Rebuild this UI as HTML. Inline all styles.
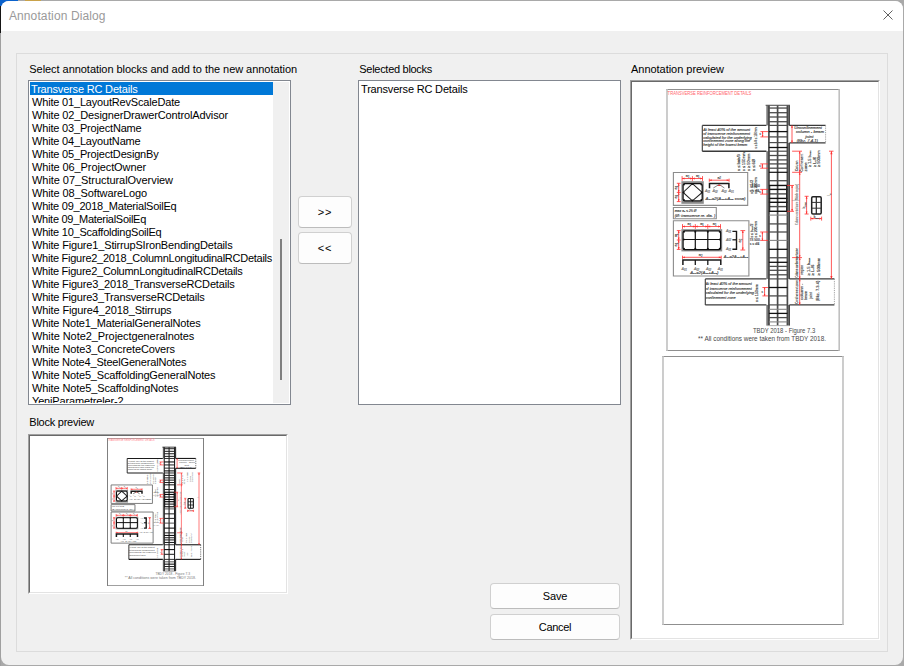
<!DOCTYPE html>
<html lang="en">
<head>
<meta charset="utf-8">
<title>Annotation Dialog</title>
<style>
html,body{margin:0;padding:0;}
body{width:904px;height:666px;position:relative;overflow:hidden;background:#a9a9a9;font-family:"Liberation Sans","DejaVu Sans",sans-serif;font-size:11px;color:#000;}
.abs{position:absolute;}
#win{position:absolute;left:1px;top:1px;width:902px;height:664px;background:#f0f0f0;border-radius:8px;overflow:hidden;}
#titlebar{position:absolute;left:0;top:0;width:902px;height:30px;background:#fff;}
#title{position:absolute;left:7.9px;top:8.4px;font-size:12px;color:#9a9a9a;white-space:nowrap;letter-spacing:0.12px}
#group{position:absolute;left:16px;top:53px;width:870px;height:597px;border:1px solid #dcdcdc;}
.lbl{position:absolute;white-space:nowrap;font-size:11px;line-height:13px;}
.list{position:absolute;background:#fff;border:1px solid #828790;overflow:hidden;box-sizing:border-box;}
.list .it{position:absolute;height:13px;line-height:13px;white-space:nowrap;}
.list .sel{position:absolute;left:1px;top:1px;height:13px;background:#0078d7;}
.btn{position:absolute;box-sizing:border-box;background:#fdfdfd;border:1px solid #d0d0d0;border-bottom-color:#bcbcbc;border-radius:4px;text-align:center;font-size:11px;}
.sunk{position:absolute;box-sizing:border-box;background:#fff;border-style:solid;border-width:1px;border-color:#a0a0a0 #fff #fff #a0a0a0;}
.sunk>.in{position:absolute;left:0;top:0;right:0;bottom:0;border-style:solid;border-width:1px;border-color:#696969 #e3e3e3 #e3e3e3 #696969;overflow:hidden;}
</style>
</head>
<body>
<div class="abs" style="left:0;top:0;width:18px;height:6px;background:#0b62cc"></div><div class="abs" style="left:0;top:6px;width:1px;height:27px;background:#151515"></div><div class="abs" style="left:0;top:33px;width:1px;height:633px;background:#a0a0a0"></div><div class="abs" style="left:25px;top:0;width:16px;height:1px;background:#c9a24a"></div>
<div id="win"><div id="titlebar"></div><div id="title">Annotation Dialog</div></div>
<svg class="abs" style="left:882px;top:9px" width="12" height="12" viewBox="0 0 12 12"><path d="M1.5 1.5 L10.5 10.5 M10.5 1.5 L1.5 10.5" stroke="#606060" stroke-width="1" fill="none"/></svg>
<div id="group"></div>
<div class="lbl" style="left:29.3px;top:63px;letter-spacing:-0.048px">Select annotation blocks and add to the new annotation</div>
<div class="lbl" style="left:359.3px;top:63px;letter-spacing:-0.290px">Selected blocks</div>
<div class="lbl" style="left:631px;top:63px;letter-spacing:-0.031px">Annotation preview</div>
<div class="lbl" style="left:29.3px;top:416px;letter-spacing:-0.243px">Block preview</div>
<div class="list" style="left:28px;top:80px;width:263px;height:325px;">
<div class="sel" style="width:243px"></div>
<div class="it" style="left:2px;top:2px;letter-spacing:-0.178px;color:#fff">Transverse RC Details</div>
<div class="it" style="left:3px;top:15px;letter-spacing:-0.181px">White 01_LayoutRevScaleDate</div>
<div class="it" style="left:3px;top:28px;letter-spacing:-0.139px">White 02_DesignerDrawerControlAdvisor</div>
<div class="it" style="left:3px;top:41px;letter-spacing:-0.180px">White 03_ProjectName</div>
<div class="it" style="left:3px;top:54px;letter-spacing:-0.179px">White 04_LayoutName</div>
<div class="it" style="left:3px;top:67px;letter-spacing:-0.181px">White 05_ProjectDesignBy</div>
<div class="it" style="left:3px;top:80px;letter-spacing:-0.103px">White 06_ProjectOwner</div>
<div class="it" style="left:3px;top:93px;letter-spacing:-0.054px">White 07_StructuralOverview</div>
<div class="it" style="left:3px;top:106px;letter-spacing:-0.115px">White 08_SoftwareLogo</div>
<div class="it" style="left:3px;top:119px;letter-spacing:-0.234px">White 09_2018_MaterialSoilEq</div>
<div class="it" style="left:3px;top:132px;letter-spacing:-0.281px">White 09_MaterialSoilEq</div>
<div class="it" style="left:3px;top:145px;letter-spacing:-0.233px">White 10_ScaffoldingSoilEq</div>
<div class="it" style="left:3px;top:158px;letter-spacing:-0.170px">White Figure1_StirrupSIronBendingDetails</div>
<div class="it" style="left:3px;top:171px;letter-spacing:-0.259px">White Figure2_2018_ColumnLongitudinalRCDetails</div>
<div class="it" style="left:3px;top:184px;letter-spacing:-0.264px">White Figure2_ColumnLongitudinalRCDetails</div>
<div class="it" style="left:3px;top:197px;letter-spacing:-0.179px">White Figure3_2018_TransverseRCDetails</div>
<div class="it" style="left:3px;top:210px;letter-spacing:-0.188px">White Figure3_TransverseRCDetails</div>
<div class="it" style="left:3px;top:223px;letter-spacing:-0.133px">White Figure4_2018_Stirrups</div>
<div class="it" style="left:3px;top:236px;letter-spacing:-0.161px">White Note1_MaterialGeneralNotes</div>
<div class="it" style="left:3px;top:249px;letter-spacing:-0.074px">White Note2_Projectgeneralnotes</div>
<div class="it" style="left:3px;top:262px;letter-spacing:-0.120px">White Note3_ConcreteCovers</div>
<div class="it" style="left:3px;top:275px;letter-spacing:-0.186px">White Note4_SteelGeneralNotes</div>
<div class="it" style="left:3px;top:288px;letter-spacing:-0.153px">White Note5_ScaffoldingGeneralNotes</div>
<div class="it" style="left:3px;top:301px;letter-spacing:-0.118px">White Note5_ScaffoldingNotes</div>
<div class="it" style="left:3px;top:314px;letter-spacing:-0.160px">YeniParametreler-2</div>
<div class="abs" style="left:244px;top:1px;width:16px;height:321px;background:#f0f0f0"></div>
<div class="abs" style="left:251px;top:158px;width:2px;height:141px;background:#808080"></div>
<div class="abs" style="left:0;top:322px;width:261px;height:1px;background:#fff"></div>
</div>
<div class="list" style="left:358px;top:80px;width:263px;height:325px;"><div class="it" style="left:2px;top:2px;letter-spacing:-0.178px">Transverse RC Details</div></div>
<div class="btn" style="left:298px;top:196px;width:54px;height:32px;line-height:31px;letter-spacing:0.8px">&gt;&gt;</div>
<div class="btn" style="left:298px;top:232px;width:54px;height:32px;line-height:31px;letter-spacing:0.8px">&lt;&lt;</div>
<div class="btn" style="left:490px;top:583px;width:130px;height:26px;line-height:25px;letter-spacing:-0.2px">Save</div>
<div class="btn" style="left:490px;top:614px;width:130px;height:26px;line-height:25px;letter-spacing:-0.3px">Cancel</div>
<div class="sunk" style="left:28px;top:434px;width:260px;height:160px;"><div class="in"></div></div>
<div class="sunk" style="left:630px;top:80px;width:250px;height:560px;"><div class="in"></div></div>
<svg class="abs" style="left:0;top:0" width="904" height="666"><rect x="667.0" y="89" width="172.20000000000005" height="262" fill="#fff"/><line x1="666.2" y1="89.5" x2="840.0" y2="89.5" stroke="#8f8f8f" stroke-width="1"/><line x1="666.2" y1="350.5" x2="840.0" y2="350.5" stroke="#8f8f8f" stroke-width="1"/><line x1="667.0" y1="89" x2="667.0" y2="351" stroke="#c0c0c0" stroke-width="1.6"/><line x1="839.2" y1="89" x2="839.2" y2="351" stroke="#c0c0c0" stroke-width="1.6"/></svg>
<svg class="abs" style="left:0;top:0" width="904" height="666"><rect x="663.0" y="356" width="180.0" height="269" fill="#fff"/><line x1="662.2" y1="356.5" x2="843.8" y2="356.5" stroke="#8f8f8f" stroke-width="1"/><line x1="662.2" y1="624.5" x2="843.8" y2="624.5" stroke="#8f8f8f" stroke-width="1"/><line x1="663.0" y1="356" x2="663.0" y2="625" stroke="#c0c0c0" stroke-width="1.6"/><line x1="843.0" y1="356" x2="843.0" y2="625" stroke="#c0c0c0" stroke-width="1.6"/></svg>
<svg class="abs" style="left:0;top:0" width="904" height="666"><rect x="107.5" y="438" width="96.0" height="148" fill="#fff"/><line x1="107.0" y1="438.5" x2="204.0" y2="438.5" stroke="#a0a0a0" stroke-width="1"/><line x1="107.0" y1="585.5" x2="204.0" y2="585.5" stroke="#a0a0a0" stroke-width="1"/><line x1="107.5" y1="438" x2="107.5" y2="586" stroke="#808080" stroke-width="1"/><line x1="203.5" y1="438" x2="203.5" y2="586" stroke="#808080" stroke-width="1"/></svg>
<svg class="abs" style="left:666px;top:89px" width="174" height="262" viewBox="0 0 174 262"><g id="dwg" font-family="'Liberation Sans',sans-serif"><g transform="translate(-666,-89)"><text x="667.6" y="94.6" font-size="4.55" fill="#ff5f6a" stroke="#ff5f6a" stroke-width="0" text-anchor="start" textLength="83.8" lengthAdjust="spacingAndGlyphs">TRANSVERSE REINFORCEMENT DETAILS</text><rect x="766.3" y="105.3" width="3.2" height="20.1" fill="#7a7a7a"/><rect x="766.3" y="151.2" width="3.2" height="127.7" fill="#7a7a7a"/><rect x="766.3" y="304.9" width="3.2" height="20.7" fill="#7a7a7a"/><rect x="787" y="105.3" width="2.9" height="20.1" fill="#7a7a7a"/><line x1="789.4" y1="105.3" x2="789.4" y2="125.4" stroke="#444" stroke-width="1.1" vector-effect="non-scaling-stroke"/><rect x="787" y="142.9" width="2.9" height="136.0" fill="#7a7a7a"/><line x1="789.4" y1="142.9" x2="789.4" y2="278.9" stroke="#444" stroke-width="1.1" vector-effect="non-scaling-stroke"/><rect x="787" y="304.9" width="2.9" height="20.7" fill="#7a7a7a"/><line x1="789.4" y1="304.9" x2="789.4" y2="325.6" stroke="#444" stroke-width="1.1" vector-effect="non-scaling-stroke"/><line x1="768.9" y1="105.3" x2="768.9" y2="325.6" stroke="#4a4a4a" stroke-width="1.7" vector-effect="non-scaling-stroke"/><line x1="777.6" y1="105.3" x2="777.6" y2="325.6" stroke="#4a4a4a" stroke-width="1.7" vector-effect="non-scaling-stroke"/><line x1="787.4" y1="105.3" x2="787.4" y2="325.6" stroke="#4a4a4a" stroke-width="1.7" vector-effect="non-scaling-stroke"/><line x1="765.6" y1="105.3" x2="790" y2="105.3" stroke="#555" stroke-width="1.1" vector-effect="non-scaling-stroke"/><line x1="766.9" y1="325.6" x2="789.4" y2="325.6" stroke="#aaa" stroke-width="0.9" vector-effect="non-scaling-stroke"/><line x1="768.9" y1="108.05" x2="787.4" y2="108.05" stroke="#4c4c4c" stroke-width="1.3" vector-effect="non-scaling-stroke"/><line x1="768.9" y1="112.7" x2="787.4" y2="112.7" stroke="#4c4c4c" stroke-width="1.3" vector-effect="non-scaling-stroke"/><line x1="768.9" y1="117" x2="787.4" y2="117" stroke="#4c4c4c" stroke-width="1.3" vector-effect="non-scaling-stroke"/><line x1="768.9" y1="121.7" x2="787.4" y2="121.7" stroke="#4c4c4c" stroke-width="1.3" vector-effect="non-scaling-stroke"/><line x1="768.9" y1="125.4" x2="787.4" y2="125.4" stroke="#4c4c4c" stroke-width="1.2" vector-effect="non-scaling-stroke"/><line x1="768.9" y1="131.6" x2="787.4" y2="131.6" stroke="#111" stroke-width="1.3" vector-effect="non-scaling-stroke"/><line x1="768.9" y1="136.9" x2="787.4" y2="136.9" stroke="#4c4c4c" stroke-width="1.3" vector-effect="non-scaling-stroke"/><line x1="768.9" y1="142.6" x2="787.4" y2="142.6" stroke="#4c4c4c" stroke-width="1.2" vector-effect="non-scaling-stroke"/><line x1="768.9" y1="147.5" x2="787.4" y2="147.5" stroke="#111" stroke-width="1.3" vector-effect="non-scaling-stroke"/><line x1="768.9" y1="151.2" x2="787.4" y2="151.2" stroke="#4c4c4c" stroke-width="1.2" vector-effect="non-scaling-stroke"/><line x1="768.9" y1="155.5" x2="787.4" y2="155.5" stroke="#4c4c4c" stroke-width="1.3" vector-effect="non-scaling-stroke"/><line x1="768.9" y1="159.9" x2="787.4" y2="159.9" stroke="#4c4c4c" stroke-width="1.3" vector-effect="non-scaling-stroke"/><line x1="768.9" y1="163.9" x2="787.4" y2="163.9" stroke="#4c4c4c" stroke-width="1.3" vector-effect="non-scaling-stroke"/><line x1="768.9" y1="168.2" x2="787.4" y2="168.2" stroke="#4c4c4c" stroke-width="1.3" vector-effect="non-scaling-stroke"/><line x1="768.9" y1="172.3" x2="787.4" y2="172.3" stroke="#111" stroke-width="1.2" vector-effect="non-scaling-stroke"/><line x1="768.9" y1="180.7" x2="787.4" y2="180.7" stroke="#4c4c4c" stroke-width="1.3" vector-effect="non-scaling-stroke"/><line x1="768.9" y1="185.45" x2="787.4" y2="185.45" stroke="#111" stroke-width="1.4" vector-effect="non-scaling-stroke"/><line x1="768.9" y1="189.4" x2="787.4" y2="189.4" stroke="#111" stroke-width="1.4" vector-effect="non-scaling-stroke"/><line x1="768.9" y1="193.9" x2="787.4" y2="193.9" stroke="#4c4c4c" stroke-width="1.4" vector-effect="non-scaling-stroke"/><line x1="768.9" y1="198.4" x2="787.4" y2="198.4" stroke="#111" stroke-width="1.4" vector-effect="non-scaling-stroke"/><line x1="768.9" y1="202.3" x2="787.4" y2="202.3" stroke="#111" stroke-width="1.4" vector-effect="non-scaling-stroke"/><line x1="768.9" y1="206.6" x2="787.4" y2="206.6" stroke="#4c4c4c" stroke-width="1.4" vector-effect="non-scaling-stroke"/><line x1="768.9" y1="211.3" x2="787.4" y2="211.3" stroke="#111" stroke-width="1.4" vector-effect="non-scaling-stroke"/><line x1="768.9" y1="215.1" x2="787.4" y2="215.1" stroke="#858585" stroke-width="1.1" vector-effect="non-scaling-stroke"/><line x1="768.9" y1="223.9" x2="787.4" y2="223.9" stroke="#4c4c4c" stroke-width="1.3" vector-effect="non-scaling-stroke"/><line x1="768.9" y1="232" x2="787.4" y2="232" stroke="#4c4c4c" stroke-width="1.3" vector-effect="non-scaling-stroke"/><line x1="768.9" y1="240.4" x2="787.4" y2="240.4" stroke="#858585" stroke-width="1.1" vector-effect="non-scaling-stroke"/><line x1="768.9" y1="249.3" x2="787.4" y2="249.3" stroke="#111" stroke-width="1.3" vector-effect="non-scaling-stroke"/><line x1="768.9" y1="257.75" x2="787.4" y2="257.75" stroke="#4c4c4c" stroke-width="1.3" vector-effect="non-scaling-stroke"/><line x1="768.9" y1="262.3" x2="787.4" y2="262.3" stroke="#111" stroke-width="1.3" vector-effect="non-scaling-stroke"/><line x1="768.9" y1="266.4" x2="787.4" y2="266.4" stroke="#4c4c4c" stroke-width="1.3" vector-effect="non-scaling-stroke"/><line x1="768.9" y1="270.3" x2="787.4" y2="270.3" stroke="#4c4c4c" stroke-width="1.3" vector-effect="non-scaling-stroke"/><line x1="768.9" y1="274.8" x2="787.4" y2="274.8" stroke="#4c4c4c" stroke-width="1.3" vector-effect="non-scaling-stroke"/><line x1="768.9" y1="278.9" x2="787.4" y2="278.9" stroke="#4c4c4c" stroke-width="1.2" vector-effect="non-scaling-stroke"/><line x1="768.9" y1="287.5" x2="787.4" y2="287.5" stroke="#111" stroke-width="1.3" vector-effect="non-scaling-stroke"/><line x1="768.9" y1="295.9" x2="787.4" y2="295.9" stroke="#4c4c4c" stroke-width="1.3" vector-effect="non-scaling-stroke"/><line x1="768.9" y1="304.9" x2="787.4" y2="304.9" stroke="#4c4c4c" stroke-width="1.2" vector-effect="non-scaling-stroke"/><line x1="768.9" y1="309.3" x2="787.4" y2="309.3" stroke="#858585" stroke-width="1.1" vector-effect="non-scaling-stroke"/><line x1="768.9" y1="313.4" x2="787.4" y2="313.4" stroke="#111" stroke-width="1.3" vector-effect="non-scaling-stroke"/><line x1="768.9" y1="317.6" x2="787.4" y2="317.6" stroke="#4c4c4c" stroke-width="1.3" vector-effect="non-scaling-stroke"/><line x1="768.9" y1="321.9" x2="787.4" y2="321.9" stroke="#858585" stroke-width="1.1" vector-effect="non-scaling-stroke"/><line x1="769.7" y1="185.4" x2="769.7" y2="211.3" stroke="#222" stroke-width="1.1" vector-effect="non-scaling-stroke"/><line x1="786.6" y1="185.4" x2="786.6" y2="211.3" stroke="#222" stroke-width="1.1" vector-effect="non-scaling-stroke"/><line x1="702.3" y1="125.4" x2="766.4" y2="125.4" stroke="#3a3a3a" stroke-width="1.4" vector-effect="non-scaling-stroke"/><line x1="702.3" y1="151.2" x2="766.4" y2="151.2" stroke="#3a3a3a" stroke-width="1.4" vector-effect="non-scaling-stroke"/><line x1="702.3" y1="125.4" x2="702.3" y2="151.2" stroke="#3a3a3a" stroke-width="1.1" vector-effect="non-scaling-stroke"/><line x1="789.4" y1="125.4" x2="825.6" y2="125.4" stroke="#3a3a3a" stroke-width="1.4" vector-effect="non-scaling-stroke"/><line x1="789.4" y1="142.9" x2="825.6" y2="142.9" stroke="#3a3a3a" stroke-width="1.4" vector-effect="non-scaling-stroke"/><line x1="825.6" y1="125.4" x2="825.6" y2="142.9" stroke="#999" stroke-width="0.9" vector-effect="non-scaling-stroke" stroke-dasharray="1.2 1"/><line x1="705.3" y1="278.9" x2="766.4" y2="278.9" stroke="#3a3a3a" stroke-width="1.4" vector-effect="non-scaling-stroke"/><line x1="705.3" y1="304.9" x2="766.4" y2="304.9" stroke="#3a3a3a" stroke-width="1.4" vector-effect="non-scaling-stroke"/><line x1="705.3" y1="278.9" x2="705.3" y2="304.9" stroke="#3a3a3a" stroke-width="1.1" vector-effect="non-scaling-stroke"/><line x1="789.4" y1="278.9" x2="834.4" y2="278.9" stroke="#3a3a3a" stroke-width="1.4" vector-effect="non-scaling-stroke"/><line x1="789.4" y1="304.9" x2="834.4" y2="304.9" stroke="#3a3a3a" stroke-width="1.4" vector-effect="non-scaling-stroke"/><line x1="834.4" y1="278.9" x2="834.4" y2="304.9" stroke="#999" stroke-width="0.9" vector-effect="non-scaling-stroke" stroke-dasharray="1.2 1"/><text x="703.2" y="131.2" font-size="3.7" fill="#4a4a4a" stroke="#4a4a4a" stroke-width="0.16" text-anchor="start" font-style="italic" textLength="47" lengthAdjust="spacingAndGlyphs">At least 40% of the amount</text><text x="703.2" y="134.85" font-size="3.7" fill="#4a4a4a" stroke="#4a4a4a" stroke-width="0.16" text-anchor="start" font-style="italic" textLength="47" lengthAdjust="spacingAndGlyphs">of transverse reinforcement</text><text x="703.2" y="138.5" font-size="3.7" fill="#4a4a4a" stroke="#4a4a4a" stroke-width="0.16" text-anchor="start" font-style="italic" textLength="48.5" lengthAdjust="spacingAndGlyphs">calculated for the underlying</text><text x="703.2" y="142.14999999999998" font-size="3.7" fill="#4a4a4a" stroke="#4a4a4a" stroke-width="0.16" text-anchor="start" font-style="italic" textLength="47" lengthAdjust="spacingAndGlyphs">confinement zone along the</text><text x="703.2" y="145.79999999999998" font-size="3.7" fill="#4a4a4a" stroke="#4a4a4a" stroke-width="0.16" text-anchor="start" font-style="italic" textLength="44" lengthAdjust="spacingAndGlyphs">height of the lowest beam</text><text x="705.5" y="285.0" font-size="3.8" fill="#4a4a4a" stroke="#4a4a4a" stroke-width="0.16" text-anchor="start" font-style="italic" textLength="46.2" lengthAdjust="spacingAndGlyphs">At least 40% of the amount</text><text x="705.5" y="289.55" font-size="3.8" fill="#4a4a4a" stroke="#4a4a4a" stroke-width="0.16" text-anchor="start" font-style="italic" textLength="46.2" lengthAdjust="spacingAndGlyphs">of transverse reinforcement</text><text x="705.5" y="294.1" font-size="3.8" fill="#4a4a4a" stroke="#4a4a4a" stroke-width="0.16" text-anchor="start" font-style="italic" textLength="48.5" lengthAdjust="spacingAndGlyphs">calculated for the underlying</text><text x="705.5" y="298.65" font-size="3.8" fill="#4a4a4a" stroke="#4a4a4a" stroke-width="0.16" text-anchor="start" font-style="italic" textLength="30" lengthAdjust="spacingAndGlyphs">confinement zone</text><text x="757.2" y="148.4" font-size="3.6" fill="#4a4a4a" stroke="#4a4a4a" stroke-width="0.16" text-anchor="start" transform="rotate(-90 757.2 148.4)" textLength="21" lengthAdjust="spacingAndGlyphs">s ≤ b/4 ≤ 150mm</text><text x="758.3" y="302" font-size="3.6" fill="#4a4a4a" stroke="#4a4a4a" stroke-width="0.16" text-anchor="start" transform="rotate(-90 758.3 302)" textLength="17.6" lengthAdjust="spacingAndGlyphs">s ≤ 150mm</text><line x1="760.4" y1="131.6" x2="768" y2="131.6" stroke="#ff3030" stroke-width="0.8" vector-effect="non-scaling-stroke"/><line x1="760.4" y1="136.9" x2="768" y2="136.9" stroke="#ff3030" stroke-width="0.8" vector-effect="non-scaling-stroke"/><line x1="762.6" y1="131.6" x2="762.6" y2="136.9" stroke="#ff3030" stroke-width="0.8" vector-effect="non-scaling-stroke"/><polygon points="762.6,131.6 761.8000000000001,133.4 763.4,133.4" fill="#ff3030"/><polygon points="762.6,136.9 761.8000000000001,135.1 763.4,135.1" fill="#ff3030"/><text x="761.0" y="135.25" font-size="3.0" fill="#4a4a4a" stroke="#4a4a4a" stroke-width="0.16" text-anchor="end" font-style="italic">s</text><line x1="760.1999999999999" y1="163.9" x2="768" y2="163.9" stroke="#ff3030" stroke-width="0.8" vector-effect="non-scaling-stroke"/><line x1="760.1999999999999" y1="168.2" x2="768" y2="168.2" stroke="#ff3030" stroke-width="0.8" vector-effect="non-scaling-stroke"/><line x1="762.4" y1="163.9" x2="762.4" y2="168.2" stroke="#ff3030" stroke-width="0.8" vector-effect="non-scaling-stroke"/><polygon points="762.4,163.9 761.6,165.70000000000002 763.1999999999999,165.70000000000002" fill="#ff3030"/><polygon points="762.4,168.2 761.6,166.39999999999998 763.1999999999999,166.39999999999998" fill="#ff3030"/><text x="760.8" y="167.05" font-size="3.0" fill="#4a4a4a" stroke="#4a4a4a" stroke-width="0.16" text-anchor="end" font-style="italic">s</text><line x1="760.1999999999999" y1="189.4" x2="768" y2="189.4" stroke="#ff3030" stroke-width="0.8" vector-effect="non-scaling-stroke"/><line x1="760.1999999999999" y1="194.1" x2="768" y2="194.1" stroke="#ff3030" stroke-width="0.8" vector-effect="non-scaling-stroke"/><line x1="762.4" y1="189.4" x2="762.4" y2="194.1" stroke="#ff3030" stroke-width="0.8" vector-effect="non-scaling-stroke"/><polygon points="762.4,189.4 761.6,191.20000000000002 763.1999999999999,191.20000000000002" fill="#ff3030"/><polygon points="762.4,194.1 761.6,192.29999999999998 763.1999999999999,192.29999999999998" fill="#ff3030"/><text x="760.8" y="192.75" font-size="3.0" fill="#4a4a4a" stroke="#4a4a4a" stroke-width="0.16" text-anchor="end" font-style="italic">s</text><line x1="760.1999999999999" y1="232" x2="768" y2="232" stroke="#ff3030" stroke-width="0.8" vector-effect="non-scaling-stroke"/><line x1="760.1999999999999" y1="240.4" x2="768" y2="240.4" stroke="#ff3030" stroke-width="0.8" vector-effect="non-scaling-stroke"/><line x1="762.4" y1="232" x2="762.4" y2="240.4" stroke="#ff3030" stroke-width="0.8" vector-effect="non-scaling-stroke"/><polygon points="762.4,232 761.6,233.8 763.1999999999999,233.8" fill="#ff3030"/><polygon points="762.4,240.4 761.6,238.6 763.1999999999999,238.6" fill="#ff3030"/><text x="760.8" y="237.2" font-size="3.0" fill="#4a4a4a" stroke="#4a4a4a" stroke-width="0.16" text-anchor="end" font-style="italic">s</text><line x1="762.4" y1="287.5" x2="768" y2="287.5" stroke="#ff3030" stroke-width="0.8" vector-effect="non-scaling-stroke"/><line x1="762.4" y1="295.9" x2="768" y2="295.9" stroke="#ff3030" stroke-width="0.8" vector-effect="non-scaling-stroke"/><line x1="764.6" y1="287.5" x2="764.6" y2="295.9" stroke="#ff3030" stroke-width="0.8" vector-effect="non-scaling-stroke"/><polygon points="764.6,287.5 763.8000000000001,289.3 765.4,289.3" fill="#ff3030"/><polygon points="764.6,295.9 763.8000000000001,294.09999999999997 765.4,294.09999999999997" fill="#ff3030"/><text x="763.0" y="292.7" font-size="3.0" fill="#4a4a4a" stroke="#4a4a4a" stroke-width="0.16" text-anchor="end" font-style="italic">s</text><text x="740.1" y="171.0" font-size="3.7" fill="#4a4a4a" stroke="#4a4a4a" stroke-width="0.16" text-anchor="start" transform="rotate(-90 740.1 171.0)" textLength="16.8" lengthAdjust="spacingAndGlyphs">s ≤ b<tspan font-size="70%">min</tspan>/3</text><text x="745.0" y="171.0" font-size="3.7" fill="#4a4a4a" stroke="#4a4a4a" stroke-width="0.16" text-anchor="start" transform="rotate(-90 745.0 171.0)" textLength="18.8" lengthAdjust="spacingAndGlyphs">s ≤ 150mm</text><text x="749.9" y="171.0" font-size="3.7" fill="#4a4a4a" stroke="#4a4a4a" stroke-width="0.16" text-anchor="start" transform="rotate(-90 749.9 171.0)" textLength="17.4" lengthAdjust="spacingAndGlyphs">s ≥ 50mm</text><text x="754.8000000000001" y="171.0" font-size="3.7" fill="#4a4a4a" stroke="#4a4a4a" stroke-width="0.16" text-anchor="start" transform="rotate(-90 754.8000000000001 171.0)" textLength="12" lengthAdjust="spacingAndGlyphs">s ≤ 6Ø</text><text x="753.4" y="193.8" font-size="3.4" fill="#4a4a4a" stroke="#4a4a4a" stroke-width="0.16" text-anchor="start" transform="rotate(-90 753.4 193.8)">s ≤ b<tspan font-size="70%">min</tspan>/2</text><text x="757.0" y="193.8" font-size="3.4" fill="#4a4a4a" stroke="#4a4a4a" stroke-width="0.16" text-anchor="start" transform="rotate(-90 757.0 193.8)">s ≤ 200mm</text><text x="749.4" y="187.0" font-size="3.2" fill="#4a4a4a" stroke="#4a4a4a" stroke-width="0.16" text-anchor="start">TS 500</text><text x="749.8" y="191.6" font-size="3.2" fill="#4a4a4a" stroke="#4a4a4a" stroke-width="0.16" text-anchor="start">s ≤ d/4</text><text x="753.4" y="237.6" font-size="3.4" fill="#4a4a4a" stroke="#4a4a4a" stroke-width="0.16" text-anchor="start" transform="rotate(-90 753.4 237.6)">s ≤ b<tspan font-size="70%">min</tspan>/2</text><text x="757.0" y="237.6" font-size="3.4" fill="#4a4a4a" stroke="#4a4a4a" stroke-width="0.16" text-anchor="start" transform="rotate(-90 757.0 237.6)">s ≤ 200mm</text><text x="749.4" y="240.8" font-size="3.2" fill="#4a4a4a" stroke="#4a4a4a" stroke-width="0.16" text-anchor="start">TS 500</text><text x="749.8" y="245.4" font-size="3.2" fill="#4a4a4a" stroke="#4a4a4a" stroke-width="0.16" text-anchor="start">s ≤ d/4</text><line x1="792.0" y1="125.4" x2="792.0" y2="142.9" stroke="#ff3030" stroke-width="0.8" vector-effect="non-scaling-stroke"/><line x1="792.0" y1="125.4" x2="792.0" y2="125.4" stroke="#ff3030" stroke-width="0.8" vector-effect="non-scaling-stroke"/><line x1="792.0" y1="142.9" x2="792.0" y2="142.9" stroke="#ff3030" stroke-width="0.8" vector-effect="non-scaling-stroke"/><polygon points="792.0,125.4 791.1,127.80000000000001 792.9,127.80000000000001" fill="#ff3030"/><polygon points="792.0,142.9 791.1,140.5 792.9,140.5" fill="#ff3030"/><line x1="799.7" y1="151.2" x2="799.7" y2="304.9" stroke="#ff3030" stroke-width="0.8" vector-effect="non-scaling-stroke"/><line x1="792.1" y1="151.2" x2="802" y2="151.2" stroke="#ff3030" stroke-width="0.8" vector-effect="non-scaling-stroke"/><line x1="792.1" y1="172.3" x2="802" y2="172.3" stroke="#ff3030" stroke-width="0.8" vector-effect="non-scaling-stroke"/><line x1="792.1" y1="257.6" x2="802" y2="257.6" stroke="#ff3030" stroke-width="0.8" vector-effect="non-scaling-stroke"/><polygon points="799.7,151.2 798.8000000000001,153.6 800.6,153.6" fill="#ff3030"/><polygon points="799.7,172.3 798.8000000000001,169.9 800.6,169.9" fill="#ff3030"/><polygon points="799.7,172.3 798.8000000000001,174.70000000000002 800.6,174.70000000000002" fill="#ff3030"/><polygon points="799.7,257.6 798.8000000000001,255.20000000000002 800.6,255.20000000000002" fill="#ff3030"/><polygon points="799.7,257.6 798.8000000000001,260.0 800.6,260.0" fill="#ff3030"/><polygon points="799.7,278.9 798.8000000000001,276.5 800.6,276.5" fill="#ff3030"/><polygon points="799.7,278.9 798.8000000000001,281.29999999999995 800.6,281.29999999999995" fill="#ff3030"/><polygon points="799.7,304.9 798.8000000000001,302.5 800.6,302.5" fill="#ff3030"/><line x1="787" y1="185.45" x2="794" y2="185.45" stroke="#ff3030" stroke-width="0.8" vector-effect="non-scaling-stroke"/><line x1="787" y1="211.3" x2="794" y2="211.3" stroke="#ff3030" stroke-width="0.8" vector-effect="non-scaling-stroke"/><line x1="792.1" y1="185.45" x2="792.1" y2="211.3" stroke="#ff3030" stroke-width="0.8" vector-effect="non-scaling-stroke"/><polygon points="792.1,185.45 791.2,187.85 793.0,187.85" fill="#ff3030"/><polygon points="792.1,211.3 791.2,208.9 793.0,208.9" fill="#ff3030"/><text x="795.2" y="200.5" font-size="3.2" fill="#4a4a4a" stroke="#4a4a4a" stroke-width="0.16" text-anchor="start" transform="rotate(-90 795.2 200.5)">l<tspan font-size="70%" dy="0.8">b</tspan><tspan dy="-0.8"></tspan></text><line x1="831.4" y1="151.2" x2="831.4" y2="278.9" stroke="#ff3030" stroke-width="0.8" vector-effect="non-scaling-stroke"/><polygon points="831.4,151.2 830.3,154.2 832.5,154.2" fill="#ff3030"/><polygon points="831.4,278.9 830.3,275.9 832.5,275.9" fill="#ff3030"/><line x1="829" y1="151.2" x2="833.5" y2="151.2" stroke="#ff3030" stroke-width="0.8" vector-effect="non-scaling-stroke"/><text x="830.2" y="195.6" font-size="3.4" fill="#4a4a4a" stroke="#4a4a4a" stroke-width="0.16" text-anchor="start" transform="rotate(-90 830.2 195.6)">l<tspan font-size="70%" dy="0.8">c</tspan><tspan dy="-0.8"></tspan></text><text x="797.95" y="171.1" font-size="3.6" fill="#4a4a4a" stroke="#4a4a4a" stroke-width="0.16" text-anchor="start" transform="rotate(-90 797.95 171.1)" textLength="10.5" lengthAdjust="spacingAndGlyphs">Column</text><text x="803.0" y="171.4" font-size="3.6" fill="#4a4a4a" stroke="#4a4a4a" stroke-width="0.16" text-anchor="start" transform="rotate(-90 803.0 171.4)" textLength="17.4" lengthAdjust="spacingAndGlyphs">Confinement</text><text x="806.95" y="171.4" font-size="3.6" fill="#4a4a4a" stroke="#4a4a4a" stroke-width="0.16" text-anchor="start" transform="rotate(-90 806.95 171.4)" textLength="9" lengthAdjust="spacingAndGlyphs">zone</text><text x="811.25" y="167" font-size="3.6" fill="#4a4a4a" stroke="#4a4a4a" stroke-width="0.16" text-anchor="start" transform="rotate(-90 811.25 167)" textLength="16.7" lengthAdjust="spacingAndGlyphs">≥ 1.5 b<tspan font-size="70%">max</tspan></text><text x="816.25" y="167" font-size="3.6" fill="#4a4a4a" stroke="#4a4a4a" stroke-width="0.16" text-anchor="start" transform="rotate(-90 816.25 167)" textLength="10.2" lengthAdjust="spacingAndGlyphs">≥ L<tspan font-size="70%">c</tspan>/6</text><text x="820.25" y="167" font-size="3.6" fill="#4a4a4a" stroke="#4a4a4a" stroke-width="0.16" text-anchor="start" transform="rotate(-90 820.25 167)" textLength="16.7" lengthAdjust="spacingAndGlyphs">≥ 500mm</text><text x="798.35" y="224.9" font-size="3.5" fill="#8a8a8a" stroke="#8a8a8a" stroke-width="0.16" text-anchor="start" transform="rotate(-90 798.35 224.9)" textLength="41.0" lengthAdjust="spacingAndGlyphs">Column central zone (middle region)</text><text x="798.25" y="277.6" font-size="3.6" fill="#4a4a4a" stroke="#4a4a4a" stroke-width="0.16" text-anchor="start" transform="rotate(-90 798.25 277.6)" textLength="29.4" lengthAdjust="spacingAndGlyphs">Column confinement zone</text><text x="802.55" y="274.8" font-size="3.6" fill="#4a4a4a" stroke="#4a4a4a" stroke-width="0.16" text-anchor="start" transform="rotate(-90 802.55 274.8)" textLength="10" lengthAdjust="spacingAndGlyphs">region</text><text x="810.0" y="275.4" font-size="3.6" fill="#4a4a4a" stroke="#4a4a4a" stroke-width="0.16" text-anchor="start" transform="rotate(-90 810.0 275.4)" textLength="17.7" lengthAdjust="spacingAndGlyphs">≥ 1.5 b<tspan font-size="70%">max</tspan></text><text x="814.35" y="275.4" font-size="3.6" fill="#4a4a4a" stroke="#4a4a4a" stroke-width="0.16" text-anchor="start" transform="rotate(-90 814.35 275.4)" textLength="10.8" lengthAdjust="spacingAndGlyphs">≥ L<tspan font-size="70%">c</tspan>/6</text><text x="819.65" y="275.4" font-size="3.6" fill="#4a4a4a" stroke="#4a4a4a" stroke-width="0.16" text-anchor="start" transform="rotate(-90 819.65 275.4)" textLength="17.7" lengthAdjust="spacingAndGlyphs">≥ 500mm</text><text x="798.25" y="303.8" font-size="3.6" fill="#4a4a4a" stroke="#4a4a4a" stroke-width="0.16" text-anchor="start" transform="rotate(-90 798.25 303.8)" textLength="23.6" lengthAdjust="spacingAndGlyphs">Confinement zone</text><text x="802.55" y="300.0" font-size="3.6" fill="#4a4a4a" stroke="#4a4a4a" stroke-width="0.16" text-anchor="start" transform="rotate(-90 802.55 300.0)" textLength="16.5" lengthAdjust="spacingAndGlyphs">column -</text><text x="806.95" y="300.0" font-size="3.6" fill="#4a4a4a" stroke="#4a4a4a" stroke-width="0.16" text-anchor="start" transform="rotate(-90 806.95 300.0)" textLength="9" lengthAdjust="spacingAndGlyphs">beam</text><text x="812.25" y="298.8" font-size="3.6" fill="#4a4a4a" stroke="#4a4a4a" stroke-width="0.16" text-anchor="start" transform="rotate(-90 812.25 298.8)" textLength="6.5" lengthAdjust="spacingAndGlyphs">joint</text><text x="818.55" y="301.3" font-size="3.8" fill="#4a4a4a" stroke="#4a4a4a" stroke-width="0.16" text-anchor="start" transform="rotate(-90 818.55 301.3)" textLength="20.6" lengthAdjust="spacingAndGlyphs">(Bkz. 7.3.4)</text><text x="794.2" y="129.2" font-size="3.9" fill="#4a4a4a" stroke="#4a4a4a" stroke-width="0.16" text-anchor="start" font-style="italic" textLength="27.8" lengthAdjust="spacingAndGlyphs">Unconfinement</text><text x="796" y="133.1" font-size="3.9" fill="#4a4a4a" stroke="#4a4a4a" stroke-width="0.16" text-anchor="start" font-style="italic" textLength="28" lengthAdjust="spacingAndGlyphs">column - beam</text><text x="805.3" y="138.0" font-size="3.9" fill="#4a4a4a" stroke="#4a4a4a" stroke-width="0.16" text-anchor="start" font-style="italic" textLength="8.1" lengthAdjust="spacingAndGlyphs">joint</text><text x="796.7" y="141.7" font-size="3.9" fill="#4a4a4a" stroke="#4a4a4a" stroke-width="0.16" text-anchor="start" font-style="italic" textLength="21.3" lengthAdjust="spacingAndGlyphs">(Bkz. 7.4.1)</text><rect x="811.7" y="196.7" width="9.5" height="17.2" fill="none" stroke="#222" stroke-width="1.5" vector-effect="non-scaling-stroke" rx="1.2"/><line x1="816.3" y1="196.7" x2="816.3" y2="213.9" stroke="#222" stroke-width="1.2" vector-effect="non-scaling-stroke"/><line x1="811.7" y1="202.4" x2="821.2" y2="202.4" stroke="#333" stroke-width="1.0" vector-effect="non-scaling-stroke"/><line x1="811.7" y1="208.2" x2="821.2" y2="208.2" stroke="#333" stroke-width="1.0" vector-effect="non-scaling-stroke"/><line x1="806.6" y1="196.3" x2="806.6" y2="214.0" stroke="#ff3030" stroke-width="0.8" vector-effect="non-scaling-stroke"/><line x1="804.6" y1="196.3" x2="808.6" y2="196.3" stroke="#ff3030" stroke-width="0.8" vector-effect="non-scaling-stroke"/><line x1="804.6" y1="214.0" x2="808.6" y2="214.0" stroke="#ff3030" stroke-width="0.8" vector-effect="non-scaling-stroke"/><polygon points="806.6,196.3 805.7,198.70000000000002 807.5,198.70000000000002" fill="#ff3030"/><polygon points="806.6,214.0 805.7,211.6 807.5,211.6" fill="#ff3030"/><text x="805.3" y="208.4" font-size="3.2" fill="#4a4a4a" stroke="#4a4a4a" stroke-width="0.16" text-anchor="start" transform="rotate(-90 805.3 208.4)">b<tspan font-size="70%" dy="0.8">max</tspan><tspan dy="-0.8"></tspan></text><line x1="810.8" y1="218.6" x2="821.6" y2="218.6" stroke="#ff3030" stroke-width="0.8" vector-effect="non-scaling-stroke"/><line x1="810.8" y1="216.6" x2="810.8" y2="220.6" stroke="#ff3030" stroke-width="0.8" vector-effect="non-scaling-stroke"/><line x1="821.6" y1="216.6" x2="821.6" y2="220.6" stroke="#ff3030" stroke-width="0.8" vector-effect="non-scaling-stroke"/><polygon points="810.8,218.6 813.1999999999999,217.7 813.1999999999999,219.5" fill="#ff3030"/><polygon points="821.6,218.6 819.2,217.7 819.2,219.5" fill="#ff3030"/><text x="816.2" y="217.7" font-size="3.0" fill="#4a4a4a" stroke="#4a4a4a" stroke-width="0.16" text-anchor="middle">b<tspan font-size="70%" dy="0.8">min</tspan><tspan dy="-0.8"></tspan></text><rect x="673.4" y="172.5" width="74.3" height="32.9" fill="none" stroke="#8c8c8c" stroke-width="1.1" vector-effect="non-scaling-stroke"/><rect x="673.4" y="207.5" width="42.9" height="11.3" fill="none" stroke="#8c8c8c" stroke-width="1.1" vector-effect="non-scaling-stroke"/><rect x="673.4" y="220.7" width="75.5" height="55.3" fill="none" stroke="#8c8c8c" stroke-width="1.1" vector-effect="non-scaling-stroke"/><rect x="681.4" y="181.2" width="22.4" height="22.6" fill="#8a8a8a"/><rect x="682.8" y="183.4" width="19.6" height="17.7" fill="#fff"/><rect x="683.1" y="183.6" width="19.1" height="17.3" fill="none" stroke="#111" stroke-width="1.25" vector-effect="non-scaling-stroke" rx="1.6"/><polygon points="692.4,183.6 702.2,192.4 692.4,200.9 683.1,192.4" fill="none" stroke="#222" stroke-width="1.05" vector-effect="non-scaling-stroke"/><circle cx="692.4" cy="184.1" r="0.9" fill="#111"/><circle cx="701.7" cy="192.4" r="0.9" fill="#111"/><circle cx="692.4" cy="200.4" r="0.9" fill="#111"/><circle cx="683.7" cy="192.4" r="0.9" fill="#111"/><circle cx="684" cy="184.6" r="0.9" fill="#111"/><circle cx="701.3" cy="184.6" r="0.9" fill="#111"/><circle cx="684" cy="200" r="0.9" fill="#111"/><circle cx="701.3" cy="200" r="0.9" fill="#111"/><line x1="682.1" y1="178.5" x2="702.5" y2="178.5" stroke="#ff3030" stroke-width="0.8" vector-effect="non-scaling-stroke"/><line x1="682.1" y1="176.1" x2="682.1" y2="180.9" stroke="#ff3030" stroke-width="0.8" vector-effect="non-scaling-stroke"/><line x1="692.4" y1="176.1" x2="692.4" y2="180.9" stroke="#ff3030" stroke-width="0.8" vector-effect="non-scaling-stroke"/><line x1="702.5" y1="176.1" x2="702.5" y2="180.9" stroke="#ff3030" stroke-width="0.8" vector-effect="non-scaling-stroke"/><polygon points="682.1,178.5 684.5,177.6 684.5,179.4" fill="#ff3030"/><polygon points="692.4,178.5 690.0,177.6 690.0,179.4" fill="#ff3030"/><polygon points="692.4,178.5 694.8,177.6 694.8,179.4" fill="#ff3030"/><polygon points="702.5,178.5 700.1,177.6 700.1,179.4" fill="#ff3030"/><text x="687.6" y="177.0" font-size="3.8" fill="#4a4a4a" stroke="#4a4a4a" stroke-width="0.16" text-anchor="middle">a<tspan font-size="70%" dy="0.8">1</tspan><tspan dy="-0.8"></tspan></text><text x="697.8" y="177.0" font-size="3.8" fill="#4a4a4a" stroke="#4a4a4a" stroke-width="0.16" text-anchor="middle">a<tspan font-size="70%" dy="0.8">1</tspan><tspan dy="-0.8"></tspan></text><line x1="678.7" y1="183.3" x2="678.7" y2="201.6" stroke="#ff3030" stroke-width="0.8" vector-effect="non-scaling-stroke"/><line x1="676.8000000000001" y1="183.3" x2="680.6" y2="183.3" stroke="#ff3030" stroke-width="0.8" vector-effect="non-scaling-stroke"/><line x1="676.8000000000001" y1="192.4" x2="680.6" y2="192.4" stroke="#ff3030" stroke-width="0.8" vector-effect="non-scaling-stroke"/><line x1="676.8000000000001" y1="201.6" x2="680.6" y2="201.6" stroke="#ff3030" stroke-width="0.8" vector-effect="non-scaling-stroke"/><polygon points="678.7,183.3 677.8000000000001,185.70000000000002 679.6,185.70000000000002" fill="#ff3030"/><polygon points="678.7,192.4 677.8000000000001,190.0 679.6,190.0" fill="#ff3030"/><polygon points="678.7,192.4 677.8000000000001,194.8 679.6,194.8" fill="#ff3030"/><polygon points="678.7,201.6 677.8000000000001,199.2 679.6,199.2" fill="#ff3030"/><text x="677.4" y="189.4" font-size="3.8" fill="#4a4a4a" stroke="#4a4a4a" stroke-width="0.16" text-anchor="start" transform="rotate(-90 677.4 189.4)">a<tspan font-size="70%" dy="0.8">1</tspan><tspan dy="-0.8"></tspan></text><text x="677.4" y="198.6" font-size="3.8" fill="#4a4a4a" stroke="#4a4a4a" stroke-width="0.16" text-anchor="start" transform="rotate(-90 677.4 198.6)">a<tspan font-size="70%" dy="0.8">1</tspan><tspan dy="-0.8"></tspan></text><polyline points="709.5,188.3 709.5,183.5 728.9,183.5 728.9,188.3" fill="none" stroke="#1a1a1a" stroke-width="1.5" vector-effect="non-scaling-stroke"/><line x1="709.3" y1="180.2" x2="729.1" y2="180.2" stroke="#ff3030" stroke-width="0.8" vector-effect="non-scaling-stroke"/><line x1="709.3" y1="178.6" x2="709.3" y2="181.79999999999998" stroke="#ff3030" stroke-width="0.8" vector-effect="non-scaling-stroke"/><line x1="729.1" y1="178.6" x2="729.1" y2="181.79999999999998" stroke="#ff3030" stroke-width="0.8" vector-effect="non-scaling-stroke"/><polygon points="709.3,180.2 711.6999999999999,179.29999999999998 711.6999999999999,181.1" fill="#ff3030"/><polygon points="729.1,180.2 726.7,179.29999999999998 726.7,181.1" fill="#ff3030"/><text x="719.2" y="178.6" font-size="3.8" fill="#4a4a4a" stroke="#4a4a4a" stroke-width="0.16" text-anchor="middle">a<tspan font-size="70%" dy="0.8">2</tspan><tspan dy="-0.8"></tspan></text><polygon points="716.6,186 719.2,184.2 721.8,186" fill="#ff3030"/><line x1="719.2" y1="184.4" x2="713.3" y2="188" stroke="#777" stroke-width="0.9" vector-effect="non-scaling-stroke"/><line x1="719.2" y1="184.4" x2="724.4" y2="188" stroke="#777" stroke-width="0.9" vector-effect="non-scaling-stroke"/><text x="707.6" y="192.4" font-size="3.7" fill="#777" stroke="#777" stroke-width="0.16" text-anchor="middle" font-style="italic">A<tspan font-size="70%" dy="0.8">01</tspan><tspan dy="-0.8"></tspan></text><text x="715.1" y="192.4" font-size="3.7" fill="#777" stroke="#777" stroke-width="0.16" text-anchor="middle" font-style="italic">A<tspan font-size="70%" dy="0.8">02</tspan><tspan dy="-0.8"></tspan></text><text x="724.1" y="192.4" font-size="3.7" fill="#777" stroke="#777" stroke-width="0.16" text-anchor="middle" font-style="italic">A<tspan font-size="70%" dy="0.8">02</tspan><tspan dy="-0.8"></tspan></text><text x="731.2" y="192.4" font-size="3.7" fill="#777" stroke="#777" stroke-width="0.16" text-anchor="middle" font-style="italic">A<tspan font-size="70%" dy="0.8">01</tspan><tspan dy="-0.8"></tspan></text><text x="705.6" y="199.7" font-size="3.5" fill="#4a4a4a" stroke="#4a4a4a" stroke-width="0.16" text-anchor="start" font-style="italic" textLength="40" lengthAdjust="spacingAndGlyphs">A<tspan font-size="70%">sh</tspan>=2(A<tspan font-size="70%">01</tspan>+A<tspan font-size="70%">02</tspan> cosα)</text><text x="674.8" y="212.0" font-size="3.4" fill="#4a4a4a" stroke="#4a4a4a" stroke-width="0.16" text-anchor="start" font-style="italic">max a<tspan font-size="70%">1</tspan> ≤ 25 Ø</text><text x="674.8" y="216.9" font-size="3.4" fill="#4a4a4a" stroke="#4a4a4a" stroke-width="0.16" text-anchor="start" font-style="italic" textLength="40.4" lengthAdjust="spacingAndGlyphs">(Ø: transverse re. dia. )</text><rect x="681.4" y="229.2" width="40.8" height="22.2" fill="#8a8a8a"/><rect x="682.8" y="230.6" width="38" height="19.2" fill="#fff"/><rect x="683.1" y="230.8" width="37.5" height="18.8" fill="none" stroke="#111" stroke-width="1.25" vector-effect="non-scaling-stroke" rx="1.6"/><line x1="695.3" y1="230.8" x2="695.3" y2="249.6" stroke="#111" stroke-width="1.2" vector-effect="non-scaling-stroke"/><line x1="707.8" y1="230.8" x2="707.8" y2="249.6" stroke="#111" stroke-width="1.2" vector-effect="non-scaling-stroke"/><line x1="683.1" y1="239.5" x2="720.6" y2="239.5" stroke="#111" stroke-width="1.2" vector-effect="non-scaling-stroke"/><circle cx="684" cy="231.7" r="1.0" fill="#111"/><circle cx="684" cy="248.7" r="1.0" fill="#111"/><circle cx="695.3" cy="231.7" r="1.0" fill="#111"/><circle cx="695.3" cy="248.7" r="1.0" fill="#111"/><circle cx="707.8" cy="231.7" r="1.0" fill="#111"/><circle cx="707.8" cy="248.7" r="1.0" fill="#111"/><circle cx="719.7" cy="231.7" r="1.0" fill="#111"/><circle cx="719.7" cy="248.7" r="1.0" fill="#111"/><circle cx="683.8" cy="239.5" r="0.9" fill="#111"/><circle cx="719.9" cy="239.5" r="0.9" fill="#111"/><line x1="682.5" y1="226.5" x2="720.5" y2="226.5" stroke="#ff3030" stroke-width="0.8" vector-effect="non-scaling-stroke"/><line x1="682.5" y1="224.1" x2="682.5" y2="228.9" stroke="#ff3030" stroke-width="0.8" vector-effect="non-scaling-stroke"/><line x1="695.3" y1="224.1" x2="695.3" y2="228.9" stroke="#ff3030" stroke-width="0.8" vector-effect="non-scaling-stroke"/><line x1="707.8" y1="224.1" x2="707.8" y2="228.9" stroke="#ff3030" stroke-width="0.8" vector-effect="non-scaling-stroke"/><line x1="720.5" y1="224.1" x2="720.5" y2="228.9" stroke="#ff3030" stroke-width="0.8" vector-effect="non-scaling-stroke"/><polygon points="682.5,226.5 684.9,225.6 684.9,227.4" fill="#ff3030"/><polygon points="695.3,226.5 692.9,225.6 692.9,227.4" fill="#ff3030"/><polygon points="695.3,226.5 697.6999999999999,225.6 697.6999999999999,227.4" fill="#ff3030"/><polygon points="707.8,226.5 705.4,225.6 705.4,227.4" fill="#ff3030"/><polygon points="707.8,226.5 710.1999999999999,225.6 710.1999999999999,227.4" fill="#ff3030"/><polygon points="720.5,226.5 718.1,225.6 718.1,227.4" fill="#ff3030"/><text x="689.4" y="225.0" font-size="3.8" fill="#4a4a4a" stroke="#4a4a4a" stroke-width="0.16" text-anchor="middle">a<tspan font-size="70%" dy="0.8">1</tspan><tspan dy="-0.8"></tspan></text><text x="702" y="225.0" font-size="3.8" fill="#4a4a4a" stroke="#4a4a4a" stroke-width="0.16" text-anchor="middle">a<tspan font-size="70%" dy="0.8">1</tspan><tspan dy="-0.8"></tspan></text><text x="714.6" y="225.0" font-size="3.8" fill="#4a4a4a" stroke="#4a4a4a" stroke-width="0.16" text-anchor="middle">a<tspan font-size="70%" dy="0.8">1</tspan><tspan dy="-0.8"></tspan></text><line x1="678.7" y1="230.6" x2="678.7" y2="249.4" stroke="#ff3030" stroke-width="0.8" vector-effect="non-scaling-stroke"/><line x1="676.8000000000001" y1="230.6" x2="680.6" y2="230.6" stroke="#ff3030" stroke-width="0.8" vector-effect="non-scaling-stroke"/><line x1="676.8000000000001" y1="240" x2="680.6" y2="240" stroke="#ff3030" stroke-width="0.8" vector-effect="non-scaling-stroke"/><line x1="676.8000000000001" y1="249.4" x2="680.6" y2="249.4" stroke="#ff3030" stroke-width="0.8" vector-effect="non-scaling-stroke"/><polygon points="678.7,230.6 677.8000000000001,233.0 679.6,233.0" fill="#ff3030"/><polygon points="678.7,240 677.8000000000001,237.6 679.6,237.6" fill="#ff3030"/><polygon points="678.7,240 677.8000000000001,242.4 679.6,242.4" fill="#ff3030"/><polygon points="678.7,249.4 677.8000000000001,247.0 679.6,247.0" fill="#ff3030"/><text x="677.4" y="237.0" font-size="3.8" fill="#4a4a4a" stroke="#4a4a4a" stroke-width="0.16" text-anchor="start" transform="rotate(-90 677.4 237.0)">a<tspan font-size="70%" dy="0.8">1</tspan><tspan dy="-0.8"></tspan></text><text x="677.4" y="246.4" font-size="3.8" fill="#4a4a4a" stroke="#4a4a4a" stroke-width="0.16" text-anchor="start" transform="rotate(-90 677.4 246.4)">a<tspan font-size="70%" dy="0.8">1</tspan><tspan dy="-0.8"></tspan></text><polyline points="732.4,231.4 736.5,231.4 736.5,249.3 732.4,249.3" fill="none" stroke="#1a1a1a" stroke-width="1.4" vector-effect="non-scaling-stroke"/><line x1="732.4" y1="239.8" x2="736.5" y2="239.8" stroke="#1a1a1a" stroke-width="1.3" vector-effect="non-scaling-stroke"/><text x="728.6" y="232.2" font-size="3.7" fill="#777" stroke="#777" stroke-width="0.16" text-anchor="middle" font-style="italic">A<tspan font-size="70%" dy="0.8">01</tspan><tspan dy="-0.8"></tspan></text><text x="728.6" y="240.6" font-size="3.7" fill="#777" stroke="#777" stroke-width="0.16" text-anchor="middle" font-style="italic">A<tspan font-size="70%" dy="0.8">02</tspan><tspan dy="-0.8"></tspan></text><text x="728.6" y="250.2" font-size="3.7" fill="#777" stroke="#777" stroke-width="0.16" text-anchor="middle" font-style="italic">A<tspan font-size="70%" dy="0.8">01</tspan><tspan dy="-0.8"></tspan></text><line x1="742.8" y1="230.6" x2="742.8" y2="250.0" stroke="#ff3030" stroke-width="0.8" vector-effect="non-scaling-stroke"/><line x1="740.4" y1="230.6" x2="745.1999999999999" y2="230.6" stroke="#ff3030" stroke-width="0.8" vector-effect="non-scaling-stroke"/><line x1="740.4" y1="250.0" x2="745.1999999999999" y2="250.0" stroke="#ff3030" stroke-width="0.8" vector-effect="non-scaling-stroke"/><polygon points="742.8,230.6 741.9,233.0 743.6999999999999,233.0" fill="#ff3030"/><polygon points="742.8,250.0 741.9,247.6 743.6999999999999,247.6" fill="#ff3030"/><text x="741.0" y="242.4" font-size="3.8" fill="#4a4a4a" stroke="#4a4a4a" stroke-width="0.16" text-anchor="start" transform="rotate(-90 741.0 242.4)">a<tspan font-size="70%" dy="0.8">2</tspan><tspan dy="-0.8"></tspan></text><text x="723.8" y="257.6" font-size="3.5" fill="#4a4a4a" stroke="#4a4a4a" stroke-width="0.16" text-anchor="start" font-style="italic" textLength="24.2" lengthAdjust="spacingAndGlyphs">A<tspan font-size="70%">sh</tspan>=2A<tspan font-size="70%">01</tspan>+A<tspan font-size="70%">02</tspan></text><line x1="682.5" y1="257.3" x2="721.2" y2="257.3" stroke="#ff3030" stroke-width="0.8" vector-effect="non-scaling-stroke"/><line x1="682.5" y1="255.70000000000002" x2="682.5" y2="258.90000000000003" stroke="#ff3030" stroke-width="0.8" vector-effect="non-scaling-stroke"/><line x1="721.2" y1="255.70000000000002" x2="721.2" y2="258.90000000000003" stroke="#ff3030" stroke-width="0.8" vector-effect="non-scaling-stroke"/><polygon points="682.5,257.3 684.9,256.40000000000003 684.9,258.2" fill="#ff3030"/><polygon points="721.2,257.3 718.8000000000001,256.40000000000003 718.8000000000001,258.2" fill="#ff3030"/><text x="700.6" y="255.9" font-size="3.8" fill="#4a4a4a" stroke="#4a4a4a" stroke-width="0.16" text-anchor="middle">a<tspan font-size="70%" dy="0.8">2</tspan><tspan dy="-0.8"></tspan></text><polyline points="682.9,265 682.9,259.9 720.8,259.9 720.8,265" fill="none" stroke="#1a1a1a" stroke-width="1.5" vector-effect="non-scaling-stroke"/><line x1="695.3" y1="259.9" x2="695.3" y2="265" stroke="#1a1a1a" stroke-width="1.3" vector-effect="non-scaling-stroke"/><line x1="707.8" y1="259.9" x2="707.8" y2="265" stroke="#1a1a1a" stroke-width="1.3" vector-effect="non-scaling-stroke"/><text x="684.2" y="269.8" font-size="3.7" fill="#777" stroke="#777" stroke-width="0.16" text-anchor="middle" font-style="italic">A<tspan font-size="70%" dy="0.8">01</tspan><tspan dy="-0.8"></tspan></text><text x="696.6" y="269.8" font-size="3.7" fill="#777" stroke="#777" stroke-width="0.16" text-anchor="middle" font-style="italic">A<tspan font-size="70%" dy="0.8">02</tspan><tspan dy="-0.8"></tspan></text><text x="708.6" y="269.8" font-size="3.7" fill="#777" stroke="#777" stroke-width="0.16" text-anchor="middle" font-style="italic">A<tspan font-size="70%" dy="0.8">02</tspan><tspan dy="-0.8"></tspan></text><text x="720.4" y="269.8" font-size="3.7" fill="#777" stroke="#777" stroke-width="0.16" text-anchor="middle" font-style="italic">A<tspan font-size="70%" dy="0.8">01</tspan><tspan dy="-0.8"></tspan></text><text x="690.3" y="274.2" font-size="3.5" fill="#4a4a4a" stroke="#4a4a4a" stroke-width="0.16" text-anchor="start" font-style="italic" textLength="28.2" lengthAdjust="spacingAndGlyphs">A<tspan font-size="70%">sh</tspan>=2(A<tspan font-size="70%">01</tspan>+A<tspan font-size="70%">02</tspan>)</text><text x="753.0" y="333.1" font-size="6.6" fill="#484848" stroke="#484848" stroke-width="0" text-anchor="start" textLength="62.2" lengthAdjust="spacingAndGlyphs">TBDY 2018 - Figure 7.3</text><text x="698.0" y="340.5" font-size="6.6" fill="#484848" stroke="#484848" stroke-width="0" text-anchor="start" textLength="128" lengthAdjust="spacingAndGlyphs">** All conditions were taken from TBDY 2018.</text></g></g></svg>
<svg class="abs" style="left:107px;top:438px" width="96.8" height="147.3" viewBox="0 0 174 262" preserveAspectRatio="none"><g id="dwgs" font-family="'Liberation Sans',sans-serif"><g transform="translate(-666,-89)"><text x="667.6" y="94.6" font-size="4.55" fill="#ff7a84" stroke="#ff7a84" stroke-width="0" text-anchor="start" textLength="83.8" lengthAdjust="spacingAndGlyphs">TRANSVERSE REINFORCEMENT DETAILS</text><rect x="766.3" y="105.3" width="3.2" height="20.1" fill="#7a7a7a"/><rect x="766.3" y="151.2" width="3.2" height="127.7" fill="#7a7a7a"/><rect x="766.3" y="304.9" width="3.2" height="20.7" fill="#7a7a7a"/><rect x="787" y="105.3" width="2.9" height="20.1" fill="#7a7a7a"/><line x1="789.4" y1="105.3" x2="789.4" y2="125.4" stroke="#1e1e1e" stroke-width="0.88" vector-effect="non-scaling-stroke"/><rect x="787" y="142.9" width="2.9" height="136.0" fill="#7a7a7a"/><line x1="789.4" y1="142.9" x2="789.4" y2="278.9" stroke="#1e1e1e" stroke-width="0.88" vector-effect="non-scaling-stroke"/><rect x="787" y="304.9" width="2.9" height="20.7" fill="#7a7a7a"/><line x1="789.4" y1="304.9" x2="789.4" y2="325.6" stroke="#1e1e1e" stroke-width="0.88" vector-effect="non-scaling-stroke"/><line x1="768.9" y1="105.3" x2="768.9" y2="325.6" stroke="#212121" stroke-width="1.12" vector-effect="non-scaling-stroke"/><line x1="777.6" y1="105.3" x2="777.6" y2="325.6" stroke="#212121" stroke-width="1.12" vector-effect="non-scaling-stroke"/><line x1="787.4" y1="105.3" x2="787.4" y2="325.6" stroke="#212121" stroke-width="1.12" vector-effect="non-scaling-stroke"/><line x1="765.6" y1="105.3" x2="790" y2="105.3" stroke="#262626" stroke-width="0.88" vector-effect="non-scaling-stroke"/><line x1="766.9" y1="325.6" x2="789.4" y2="325.6" stroke="#4c4c4c" stroke-width="0.72" vector-effect="non-scaling-stroke"/><line x1="768.9" y1="108.05" x2="787.4" y2="108.05" stroke="#222222" stroke-width="1.04" vector-effect="non-scaling-stroke"/><line x1="768.9" y1="112.7" x2="787.4" y2="112.7" stroke="#222222" stroke-width="1.04" vector-effect="non-scaling-stroke"/><line x1="768.9" y1="117" x2="787.4" y2="117" stroke="#222222" stroke-width="1.04" vector-effect="non-scaling-stroke"/><line x1="768.9" y1="121.7" x2="787.4" y2="121.7" stroke="#222222" stroke-width="1.04" vector-effect="non-scaling-stroke"/><line x1="768.9" y1="125.4" x2="787.4" y2="125.4" stroke="#222222" stroke-width="0.96" vector-effect="non-scaling-stroke"/><line x1="768.9" y1="131.6" x2="787.4" y2="131.6" stroke="#070707" stroke-width="1.04" vector-effect="non-scaling-stroke"/><line x1="768.9" y1="136.9" x2="787.4" y2="136.9" stroke="#222222" stroke-width="1.04" vector-effect="non-scaling-stroke"/><line x1="768.9" y1="142.6" x2="787.4" y2="142.6" stroke="#222222" stroke-width="0.96" vector-effect="non-scaling-stroke"/><line x1="768.9" y1="147.5" x2="787.4" y2="147.5" stroke="#070707" stroke-width="1.04" vector-effect="non-scaling-stroke"/><line x1="768.9" y1="151.2" x2="787.4" y2="151.2" stroke="#222222" stroke-width="0.96" vector-effect="non-scaling-stroke"/><line x1="768.9" y1="155.5" x2="787.4" y2="155.5" stroke="#222222" stroke-width="1.04" vector-effect="non-scaling-stroke"/><line x1="768.9" y1="159.9" x2="787.4" y2="159.9" stroke="#222222" stroke-width="1.04" vector-effect="non-scaling-stroke"/><line x1="768.9" y1="163.9" x2="787.4" y2="163.9" stroke="#222222" stroke-width="1.04" vector-effect="non-scaling-stroke"/><line x1="768.9" y1="168.2" x2="787.4" y2="168.2" stroke="#222222" stroke-width="1.04" vector-effect="non-scaling-stroke"/><line x1="768.9" y1="172.3" x2="787.4" y2="172.3" stroke="#070707" stroke-width="0.96" vector-effect="non-scaling-stroke"/><line x1="768.9" y1="180.7" x2="787.4" y2="180.7" stroke="#222222" stroke-width="1.04" vector-effect="non-scaling-stroke"/><line x1="768.9" y1="185.45" x2="787.4" y2="185.45" stroke="#070707" stroke-width="1.12" vector-effect="non-scaling-stroke"/><line x1="768.9" y1="189.4" x2="787.4" y2="189.4" stroke="#070707" stroke-width="1.12" vector-effect="non-scaling-stroke"/><line x1="768.9" y1="193.9" x2="787.4" y2="193.9" stroke="#222222" stroke-width="1.12" vector-effect="non-scaling-stroke"/><line x1="768.9" y1="198.4" x2="787.4" y2="198.4" stroke="#070707" stroke-width="1.12" vector-effect="non-scaling-stroke"/><line x1="768.9" y1="202.3" x2="787.4" y2="202.3" stroke="#070707" stroke-width="1.12" vector-effect="non-scaling-stroke"/><line x1="768.9" y1="206.6" x2="787.4" y2="206.6" stroke="#222222" stroke-width="1.12" vector-effect="non-scaling-stroke"/><line x1="768.9" y1="211.3" x2="787.4" y2="211.3" stroke="#070707" stroke-width="1.12" vector-effect="non-scaling-stroke"/><line x1="768.9" y1="215.1" x2="787.4" y2="215.1" stroke="#3b3b3b" stroke-width="0.88" vector-effect="non-scaling-stroke"/><line x1="768.9" y1="223.9" x2="787.4" y2="223.9" stroke="#222222" stroke-width="1.04" vector-effect="non-scaling-stroke"/><line x1="768.9" y1="232" x2="787.4" y2="232" stroke="#222222" stroke-width="1.04" vector-effect="non-scaling-stroke"/><line x1="768.9" y1="240.4" x2="787.4" y2="240.4" stroke="#3b3b3b" stroke-width="0.88" vector-effect="non-scaling-stroke"/><line x1="768.9" y1="249.3" x2="787.4" y2="249.3" stroke="#070707" stroke-width="1.04" vector-effect="non-scaling-stroke"/><line x1="768.9" y1="257.75" x2="787.4" y2="257.75" stroke="#222222" stroke-width="1.04" vector-effect="non-scaling-stroke"/><line x1="768.9" y1="262.3" x2="787.4" y2="262.3" stroke="#070707" stroke-width="1.04" vector-effect="non-scaling-stroke"/><line x1="768.9" y1="266.4" x2="787.4" y2="266.4" stroke="#222222" stroke-width="1.04" vector-effect="non-scaling-stroke"/><line x1="768.9" y1="270.3" x2="787.4" y2="270.3" stroke="#222222" stroke-width="1.04" vector-effect="non-scaling-stroke"/><line x1="768.9" y1="274.8" x2="787.4" y2="274.8" stroke="#222222" stroke-width="1.04" vector-effect="non-scaling-stroke"/><line x1="768.9" y1="278.9" x2="787.4" y2="278.9" stroke="#222222" stroke-width="0.96" vector-effect="non-scaling-stroke"/><line x1="768.9" y1="287.5" x2="787.4" y2="287.5" stroke="#070707" stroke-width="1.04" vector-effect="non-scaling-stroke"/><line x1="768.9" y1="295.9" x2="787.4" y2="295.9" stroke="#222222" stroke-width="1.04" vector-effect="non-scaling-stroke"/><line x1="768.9" y1="304.9" x2="787.4" y2="304.9" stroke="#222222" stroke-width="0.96" vector-effect="non-scaling-stroke"/><line x1="768.9" y1="309.3" x2="787.4" y2="309.3" stroke="#3b3b3b" stroke-width="0.88" vector-effect="non-scaling-stroke"/><line x1="768.9" y1="313.4" x2="787.4" y2="313.4" stroke="#070707" stroke-width="1.04" vector-effect="non-scaling-stroke"/><line x1="768.9" y1="317.6" x2="787.4" y2="317.6" stroke="#222222" stroke-width="1.04" vector-effect="non-scaling-stroke"/><line x1="768.9" y1="321.9" x2="787.4" y2="321.9" stroke="#3b3b3b" stroke-width="0.88" vector-effect="non-scaling-stroke"/><line x1="769.7" y1="185.4" x2="769.7" y2="211.3" stroke="#0f0f0f" stroke-width="0.88" vector-effect="non-scaling-stroke"/><line x1="786.6" y1="185.4" x2="786.6" y2="211.3" stroke="#0f0f0f" stroke-width="0.88" vector-effect="non-scaling-stroke"/><line x1="702.3" y1="125.4" x2="766.4" y2="125.4" stroke="#1a1a1a" stroke-width="1.12" vector-effect="non-scaling-stroke"/><line x1="702.3" y1="151.2" x2="766.4" y2="151.2" stroke="#1a1a1a" stroke-width="1.12" vector-effect="non-scaling-stroke"/><line x1="702.3" y1="125.4" x2="702.3" y2="151.2" stroke="#1a1a1a" stroke-width="0.88" vector-effect="non-scaling-stroke"/><line x1="789.4" y1="125.4" x2="825.6" y2="125.4" stroke="#1a1a1a" stroke-width="1.12" vector-effect="non-scaling-stroke"/><line x1="789.4" y1="142.9" x2="825.6" y2="142.9" stroke="#1a1a1a" stroke-width="1.12" vector-effect="non-scaling-stroke"/><line x1="825.6" y1="125.4" x2="825.6" y2="142.9" stroke="#444444" stroke-width="0.72" vector-effect="non-scaling-stroke" stroke-dasharray="1.2 1"/><line x1="705.3" y1="278.9" x2="766.4" y2="278.9" stroke="#1a1a1a" stroke-width="1.12" vector-effect="non-scaling-stroke"/><line x1="705.3" y1="304.9" x2="766.4" y2="304.9" stroke="#1a1a1a" stroke-width="1.12" vector-effect="non-scaling-stroke"/><line x1="705.3" y1="278.9" x2="705.3" y2="304.9" stroke="#1a1a1a" stroke-width="0.88" vector-effect="non-scaling-stroke"/><line x1="789.4" y1="278.9" x2="834.4" y2="278.9" stroke="#1a1a1a" stroke-width="1.12" vector-effect="non-scaling-stroke"/><line x1="789.4" y1="304.9" x2="834.4" y2="304.9" stroke="#1a1a1a" stroke-width="1.12" vector-effect="non-scaling-stroke"/><line x1="834.4" y1="278.9" x2="834.4" y2="304.9" stroke="#444444" stroke-width="0.72" vector-effect="non-scaling-stroke" stroke-dasharray="1.2 1"/><text x="703.2" y="131.2" font-size="3.7" fill="#4a4a4a" stroke="#4a4a4a" stroke-width="0" text-anchor="start" font-style="italic" textLength="47" lengthAdjust="spacingAndGlyphs">At least 40% of the amount</text><text x="703.2" y="134.85" font-size="3.7" fill="#4a4a4a" stroke="#4a4a4a" stroke-width="0" text-anchor="start" font-style="italic" textLength="47" lengthAdjust="spacingAndGlyphs">of transverse reinforcement</text><text x="703.2" y="138.5" font-size="3.7" fill="#4a4a4a" stroke="#4a4a4a" stroke-width="0" text-anchor="start" font-style="italic" textLength="48.5" lengthAdjust="spacingAndGlyphs">calculated for the underlying</text><text x="703.2" y="142.14999999999998" font-size="3.7" fill="#4a4a4a" stroke="#4a4a4a" stroke-width="0" text-anchor="start" font-style="italic" textLength="47" lengthAdjust="spacingAndGlyphs">confinement zone along the</text><text x="703.2" y="145.79999999999998" font-size="3.7" fill="#4a4a4a" stroke="#4a4a4a" stroke-width="0" text-anchor="start" font-style="italic" textLength="44" lengthAdjust="spacingAndGlyphs">height of the lowest beam</text><text x="705.5" y="285.0" font-size="3.8" fill="#4a4a4a" stroke="#4a4a4a" stroke-width="0" text-anchor="start" font-style="italic" textLength="46.2" lengthAdjust="spacingAndGlyphs">At least 40% of the amount</text><text x="705.5" y="289.55" font-size="3.8" fill="#4a4a4a" stroke="#4a4a4a" stroke-width="0" text-anchor="start" font-style="italic" textLength="46.2" lengthAdjust="spacingAndGlyphs">of transverse reinforcement</text><text x="705.5" y="294.1" font-size="3.8" fill="#4a4a4a" stroke="#4a4a4a" stroke-width="0" text-anchor="start" font-style="italic" textLength="48.5" lengthAdjust="spacingAndGlyphs">calculated for the underlying</text><text x="705.5" y="298.65" font-size="3.8" fill="#4a4a4a" stroke="#4a4a4a" stroke-width="0" text-anchor="start" font-style="italic" textLength="30" lengthAdjust="spacingAndGlyphs">confinement zone</text><text x="757.2" y="148.4" font-size="3.6" fill="#4a4a4a" stroke="#4a4a4a" stroke-width="0" text-anchor="start" transform="rotate(-90 757.2 148.4)" textLength="21" lengthAdjust="spacingAndGlyphs">s ≤ b/4 ≤ 150mm</text><text x="758.3" y="302" font-size="3.6" fill="#4a4a4a" stroke="#4a4a4a" stroke-width="0" text-anchor="start" transform="rotate(-90 758.3 302)" textLength="17.6" lengthAdjust="spacingAndGlyphs">s ≤ 150mm</text><line x1="760.4" y1="131.6" x2="768" y2="131.6" stroke="#ff3030" stroke-width="0.64" vector-effect="non-scaling-stroke"/><line x1="760.4" y1="136.9" x2="768" y2="136.9" stroke="#ff3030" stroke-width="0.64" vector-effect="non-scaling-stroke"/><line x1="762.6" y1="131.6" x2="762.6" y2="136.9" stroke="#ff3030" stroke-width="0.64" vector-effect="non-scaling-stroke"/><polygon points="762.6,131.6 761.8000000000001,133.4 763.4,133.4" fill="#ff3030"/><polygon points="762.6,136.9 761.8000000000001,135.1 763.4,135.1" fill="#ff3030"/><text x="761.0" y="135.25" font-size="3.0" fill="#4a4a4a" stroke="#4a4a4a" stroke-width="0" text-anchor="end" font-style="italic">s</text><line x1="760.1999999999999" y1="163.9" x2="768" y2="163.9" stroke="#ff3030" stroke-width="0.64" vector-effect="non-scaling-stroke"/><line x1="760.1999999999999" y1="168.2" x2="768" y2="168.2" stroke="#ff3030" stroke-width="0.64" vector-effect="non-scaling-stroke"/><line x1="762.4" y1="163.9" x2="762.4" y2="168.2" stroke="#ff3030" stroke-width="0.64" vector-effect="non-scaling-stroke"/><polygon points="762.4,163.9 761.6,165.70000000000002 763.1999999999999,165.70000000000002" fill="#ff3030"/><polygon points="762.4,168.2 761.6,166.39999999999998 763.1999999999999,166.39999999999998" fill="#ff3030"/><text x="760.8" y="167.05" font-size="3.0" fill="#4a4a4a" stroke="#4a4a4a" stroke-width="0" text-anchor="end" font-style="italic">s</text><line x1="760.1999999999999" y1="189.4" x2="768" y2="189.4" stroke="#ff3030" stroke-width="0.64" vector-effect="non-scaling-stroke"/><line x1="760.1999999999999" y1="194.1" x2="768" y2="194.1" stroke="#ff3030" stroke-width="0.64" vector-effect="non-scaling-stroke"/><line x1="762.4" y1="189.4" x2="762.4" y2="194.1" stroke="#ff3030" stroke-width="0.64" vector-effect="non-scaling-stroke"/><polygon points="762.4,189.4 761.6,191.20000000000002 763.1999999999999,191.20000000000002" fill="#ff3030"/><polygon points="762.4,194.1 761.6,192.29999999999998 763.1999999999999,192.29999999999998" fill="#ff3030"/><text x="760.8" y="192.75" font-size="3.0" fill="#4a4a4a" stroke="#4a4a4a" stroke-width="0" text-anchor="end" font-style="italic">s</text><line x1="760.1999999999999" y1="232" x2="768" y2="232" stroke="#ff3030" stroke-width="0.64" vector-effect="non-scaling-stroke"/><line x1="760.1999999999999" y1="240.4" x2="768" y2="240.4" stroke="#ff3030" stroke-width="0.64" vector-effect="non-scaling-stroke"/><line x1="762.4" y1="232" x2="762.4" y2="240.4" stroke="#ff3030" stroke-width="0.64" vector-effect="non-scaling-stroke"/><polygon points="762.4,232 761.6,233.8 763.1999999999999,233.8" fill="#ff3030"/><polygon points="762.4,240.4 761.6,238.6 763.1999999999999,238.6" fill="#ff3030"/><text x="760.8" y="237.2" font-size="3.0" fill="#4a4a4a" stroke="#4a4a4a" stroke-width="0" text-anchor="end" font-style="italic">s</text><line x1="762.4" y1="287.5" x2="768" y2="287.5" stroke="#ff3030" stroke-width="0.64" vector-effect="non-scaling-stroke"/><line x1="762.4" y1="295.9" x2="768" y2="295.9" stroke="#ff3030" stroke-width="0.64" vector-effect="non-scaling-stroke"/><line x1="764.6" y1="287.5" x2="764.6" y2="295.9" stroke="#ff3030" stroke-width="0.64" vector-effect="non-scaling-stroke"/><polygon points="764.6,287.5 763.8000000000001,289.3 765.4,289.3" fill="#ff3030"/><polygon points="764.6,295.9 763.8000000000001,294.09999999999997 765.4,294.09999999999997" fill="#ff3030"/><text x="763.0" y="292.7" font-size="3.0" fill="#4a4a4a" stroke="#4a4a4a" stroke-width="0" text-anchor="end" font-style="italic">s</text><text x="740.1" y="171.0" font-size="3.7" fill="#4a4a4a" stroke="#4a4a4a" stroke-width="0" text-anchor="start" transform="rotate(-90 740.1 171.0)" textLength="16.8" lengthAdjust="spacingAndGlyphs">s ≤ b<tspan font-size="70%">min</tspan>/3</text><text x="745.0" y="171.0" font-size="3.7" fill="#4a4a4a" stroke="#4a4a4a" stroke-width="0" text-anchor="start" transform="rotate(-90 745.0 171.0)" textLength="18.8" lengthAdjust="spacingAndGlyphs">s ≤ 150mm</text><text x="749.9" y="171.0" font-size="3.7" fill="#4a4a4a" stroke="#4a4a4a" stroke-width="0" text-anchor="start" transform="rotate(-90 749.9 171.0)" textLength="17.4" lengthAdjust="spacingAndGlyphs">s ≥ 50mm</text><text x="754.8000000000001" y="171.0" font-size="3.7" fill="#4a4a4a" stroke="#4a4a4a" stroke-width="0" text-anchor="start" transform="rotate(-90 754.8000000000001 171.0)" textLength="12" lengthAdjust="spacingAndGlyphs">s ≤ 6Ø</text><text x="753.4" y="193.8" font-size="3.4" fill="#4a4a4a" stroke="#4a4a4a" stroke-width="0" text-anchor="start" transform="rotate(-90 753.4 193.8)">s ≤ b<tspan font-size="70%">min</tspan>/2</text><text x="757.0" y="193.8" font-size="3.4" fill="#4a4a4a" stroke="#4a4a4a" stroke-width="0" text-anchor="start" transform="rotate(-90 757.0 193.8)">s ≤ 200mm</text><text x="749.4" y="187.0" font-size="3.2" fill="#4a4a4a" stroke="#4a4a4a" stroke-width="0" text-anchor="start">TS 500</text><text x="749.8" y="191.6" font-size="3.2" fill="#4a4a4a" stroke="#4a4a4a" stroke-width="0" text-anchor="start">s ≤ d/4</text><text x="753.4" y="237.6" font-size="3.4" fill="#4a4a4a" stroke="#4a4a4a" stroke-width="0" text-anchor="start" transform="rotate(-90 753.4 237.6)">s ≤ b<tspan font-size="70%">min</tspan>/2</text><text x="757.0" y="237.6" font-size="3.4" fill="#4a4a4a" stroke="#4a4a4a" stroke-width="0" text-anchor="start" transform="rotate(-90 757.0 237.6)">s ≤ 200mm</text><text x="749.4" y="240.8" font-size="3.2" fill="#4a4a4a" stroke="#4a4a4a" stroke-width="0" text-anchor="start">TS 500</text><text x="749.8" y="245.4" font-size="3.2" fill="#4a4a4a" stroke="#4a4a4a" stroke-width="0" text-anchor="start">s ≤ d/4</text><line x1="792.0" y1="125.4" x2="792.0" y2="142.9" stroke="#ff3030" stroke-width="0.64" vector-effect="non-scaling-stroke"/><line x1="792.0" y1="125.4" x2="792.0" y2="125.4" stroke="#ff3030" stroke-width="0.64" vector-effect="non-scaling-stroke"/><line x1="792.0" y1="142.9" x2="792.0" y2="142.9" stroke="#ff3030" stroke-width="0.64" vector-effect="non-scaling-stroke"/><polygon points="792.0,125.4 791.1,127.80000000000001 792.9,127.80000000000001" fill="#ff3030"/><polygon points="792.0,142.9 791.1,140.5 792.9,140.5" fill="#ff3030"/><line x1="799.7" y1="151.2" x2="799.7" y2="304.9" stroke="#ff3030" stroke-width="0.64" vector-effect="non-scaling-stroke"/><line x1="792.1" y1="151.2" x2="802" y2="151.2" stroke="#ff3030" stroke-width="0.64" vector-effect="non-scaling-stroke"/><line x1="792.1" y1="172.3" x2="802" y2="172.3" stroke="#ff3030" stroke-width="0.64" vector-effect="non-scaling-stroke"/><line x1="792.1" y1="257.6" x2="802" y2="257.6" stroke="#ff3030" stroke-width="0.64" vector-effect="non-scaling-stroke"/><polygon points="799.7,151.2 798.8000000000001,153.6 800.6,153.6" fill="#ff3030"/><polygon points="799.7,172.3 798.8000000000001,169.9 800.6,169.9" fill="#ff3030"/><polygon points="799.7,172.3 798.8000000000001,174.70000000000002 800.6,174.70000000000002" fill="#ff3030"/><polygon points="799.7,257.6 798.8000000000001,255.20000000000002 800.6,255.20000000000002" fill="#ff3030"/><polygon points="799.7,257.6 798.8000000000001,260.0 800.6,260.0" fill="#ff3030"/><polygon points="799.7,278.9 798.8000000000001,276.5 800.6,276.5" fill="#ff3030"/><polygon points="799.7,278.9 798.8000000000001,281.29999999999995 800.6,281.29999999999995" fill="#ff3030"/><polygon points="799.7,304.9 798.8000000000001,302.5 800.6,302.5" fill="#ff3030"/><line x1="787" y1="185.45" x2="794" y2="185.45" stroke="#ff3030" stroke-width="0.64" vector-effect="non-scaling-stroke"/><line x1="787" y1="211.3" x2="794" y2="211.3" stroke="#ff3030" stroke-width="0.64" vector-effect="non-scaling-stroke"/><line x1="792.1" y1="185.45" x2="792.1" y2="211.3" stroke="#ff3030" stroke-width="0.64" vector-effect="non-scaling-stroke"/><polygon points="792.1,185.45 791.2,187.85 793.0,187.85" fill="#ff3030"/><polygon points="792.1,211.3 791.2,208.9 793.0,208.9" fill="#ff3030"/><text x="795.2" y="200.5" font-size="3.2" fill="#4a4a4a" stroke="#4a4a4a" stroke-width="0" text-anchor="start" transform="rotate(-90 795.2 200.5)">l<tspan font-size="70%" dy="0.8">b</tspan><tspan dy="-0.8"></tspan></text><line x1="831.4" y1="151.2" x2="831.4" y2="278.9" stroke="#ff3030" stroke-width="0.64" vector-effect="non-scaling-stroke"/><polygon points="831.4,151.2 830.3,154.2 832.5,154.2" fill="#ff3030"/><polygon points="831.4,278.9 830.3,275.9 832.5,275.9" fill="#ff3030"/><line x1="829" y1="151.2" x2="833.5" y2="151.2" stroke="#ff3030" stroke-width="0.64" vector-effect="non-scaling-stroke"/><text x="830.2" y="195.6" font-size="3.4" fill="#4a4a4a" stroke="#4a4a4a" stroke-width="0" text-anchor="start" transform="rotate(-90 830.2 195.6)">l<tspan font-size="70%" dy="0.8">c</tspan><tspan dy="-0.8"></tspan></text><text x="797.95" y="171.1" font-size="3.6" fill="#4a4a4a" stroke="#4a4a4a" stroke-width="0" text-anchor="start" transform="rotate(-90 797.95 171.1)" textLength="10.5" lengthAdjust="spacingAndGlyphs">Column</text><text x="803.0" y="171.4" font-size="3.6" fill="#4a4a4a" stroke="#4a4a4a" stroke-width="0" text-anchor="start" transform="rotate(-90 803.0 171.4)" textLength="17.4" lengthAdjust="spacingAndGlyphs">Confinement</text><text x="806.95" y="171.4" font-size="3.6" fill="#4a4a4a" stroke="#4a4a4a" stroke-width="0" text-anchor="start" transform="rotate(-90 806.95 171.4)" textLength="9" lengthAdjust="spacingAndGlyphs">zone</text><text x="811.25" y="167" font-size="3.6" fill="#4a4a4a" stroke="#4a4a4a" stroke-width="0" text-anchor="start" transform="rotate(-90 811.25 167)" textLength="16.7" lengthAdjust="spacingAndGlyphs">≥ 1.5 b<tspan font-size="70%">max</tspan></text><text x="816.25" y="167" font-size="3.6" fill="#4a4a4a" stroke="#4a4a4a" stroke-width="0" text-anchor="start" transform="rotate(-90 816.25 167)" textLength="10.2" lengthAdjust="spacingAndGlyphs">≥ L<tspan font-size="70%">c</tspan>/6</text><text x="820.25" y="167" font-size="3.6" fill="#4a4a4a" stroke="#4a4a4a" stroke-width="0" text-anchor="start" transform="rotate(-90 820.25 167)" textLength="16.7" lengthAdjust="spacingAndGlyphs">≥ 500mm</text><text x="798.35" y="224.9" font-size="3.5" fill="#8a8a8a" stroke="#8a8a8a" stroke-width="0" text-anchor="start" transform="rotate(-90 798.35 224.9)" textLength="41.0" lengthAdjust="spacingAndGlyphs">Column central zone (middle region)</text><text x="798.25" y="277.6" font-size="3.6" fill="#4a4a4a" stroke="#4a4a4a" stroke-width="0" text-anchor="start" transform="rotate(-90 798.25 277.6)" textLength="29.4" lengthAdjust="spacingAndGlyphs">Column confinement zone</text><text x="802.55" y="274.8" font-size="3.6" fill="#4a4a4a" stroke="#4a4a4a" stroke-width="0" text-anchor="start" transform="rotate(-90 802.55 274.8)" textLength="10" lengthAdjust="spacingAndGlyphs">region</text><text x="810.0" y="275.4" font-size="3.6" fill="#4a4a4a" stroke="#4a4a4a" stroke-width="0" text-anchor="start" transform="rotate(-90 810.0 275.4)" textLength="17.7" lengthAdjust="spacingAndGlyphs">≥ 1.5 b<tspan font-size="70%">max</tspan></text><text x="814.35" y="275.4" font-size="3.6" fill="#4a4a4a" stroke="#4a4a4a" stroke-width="0" text-anchor="start" transform="rotate(-90 814.35 275.4)" textLength="10.8" lengthAdjust="spacingAndGlyphs">≥ L<tspan font-size="70%">c</tspan>/6</text><text x="819.65" y="275.4" font-size="3.6" fill="#4a4a4a" stroke="#4a4a4a" stroke-width="0" text-anchor="start" transform="rotate(-90 819.65 275.4)" textLength="17.7" lengthAdjust="spacingAndGlyphs">≥ 500mm</text><text x="798.25" y="303.8" font-size="3.6" fill="#4a4a4a" stroke="#4a4a4a" stroke-width="0" text-anchor="start" transform="rotate(-90 798.25 303.8)" textLength="23.6" lengthAdjust="spacingAndGlyphs">Confinement zone</text><text x="802.55" y="300.0" font-size="3.6" fill="#4a4a4a" stroke="#4a4a4a" stroke-width="0" text-anchor="start" transform="rotate(-90 802.55 300.0)" textLength="16.5" lengthAdjust="spacingAndGlyphs">column -</text><text x="806.95" y="300.0" font-size="3.6" fill="#4a4a4a" stroke="#4a4a4a" stroke-width="0" text-anchor="start" transform="rotate(-90 806.95 300.0)" textLength="9" lengthAdjust="spacingAndGlyphs">beam</text><text x="812.25" y="298.8" font-size="3.6" fill="#4a4a4a" stroke="#4a4a4a" stroke-width="0" text-anchor="start" transform="rotate(-90 812.25 298.8)" textLength="6.5" lengthAdjust="spacingAndGlyphs">joint</text><text x="818.55" y="301.3" font-size="3.8" fill="#4a4a4a" stroke="#4a4a4a" stroke-width="0" text-anchor="start" transform="rotate(-90 818.55 301.3)" textLength="20.6" lengthAdjust="spacingAndGlyphs">(Bkz. 7.3.4)</text><text x="794.2" y="129.2" font-size="3.9" fill="#4a4a4a" stroke="#4a4a4a" stroke-width="0" text-anchor="start" font-style="italic" textLength="27.8" lengthAdjust="spacingAndGlyphs">Unconfinement</text><text x="796" y="133.1" font-size="3.9" fill="#4a4a4a" stroke="#4a4a4a" stroke-width="0" text-anchor="start" font-style="italic" textLength="28" lengthAdjust="spacingAndGlyphs">column - beam</text><text x="805.3" y="138.0" font-size="3.9" fill="#4a4a4a" stroke="#4a4a4a" stroke-width="0" text-anchor="start" font-style="italic" textLength="8.1" lengthAdjust="spacingAndGlyphs">joint</text><text x="796.7" y="141.7" font-size="3.9" fill="#4a4a4a" stroke="#4a4a4a" stroke-width="0" text-anchor="start" font-style="italic" textLength="21.3" lengthAdjust="spacingAndGlyphs">(Bkz. 7.4.1)</text><rect x="811.7" y="196.7" width="9.5" height="17.2" fill="none" stroke="#0f0f0f" stroke-width="1.12" vector-effect="non-scaling-stroke" rx="1.2"/><line x1="816.3" y1="196.7" x2="816.3" y2="213.9" stroke="#0f0f0f" stroke-width="0.96" vector-effect="non-scaling-stroke"/><line x1="811.7" y1="202.4" x2="821.2" y2="202.4" stroke="#161616" stroke-width="0.8" vector-effect="non-scaling-stroke"/><line x1="811.7" y1="208.2" x2="821.2" y2="208.2" stroke="#161616" stroke-width="0.8" vector-effect="non-scaling-stroke"/><line x1="806.6" y1="196.3" x2="806.6" y2="214.0" stroke="#ff3030" stroke-width="0.64" vector-effect="non-scaling-stroke"/><line x1="804.6" y1="196.3" x2="808.6" y2="196.3" stroke="#ff3030" stroke-width="0.64" vector-effect="non-scaling-stroke"/><line x1="804.6" y1="214.0" x2="808.6" y2="214.0" stroke="#ff3030" stroke-width="0.64" vector-effect="non-scaling-stroke"/><polygon points="806.6,196.3 805.7,198.70000000000002 807.5,198.70000000000002" fill="#ff3030"/><polygon points="806.6,214.0 805.7,211.6 807.5,211.6" fill="#ff3030"/><text x="805.3" y="208.4" font-size="3.2" fill="#4a4a4a" stroke="#4a4a4a" stroke-width="0" text-anchor="start" transform="rotate(-90 805.3 208.4)">b<tspan font-size="70%" dy="0.8">max</tspan><tspan dy="-0.8"></tspan></text><line x1="810.8" y1="218.6" x2="821.6" y2="218.6" stroke="#ff3030" stroke-width="0.64" vector-effect="non-scaling-stroke"/><line x1="810.8" y1="216.6" x2="810.8" y2="220.6" stroke="#ff3030" stroke-width="0.64" vector-effect="non-scaling-stroke"/><line x1="821.6" y1="216.6" x2="821.6" y2="220.6" stroke="#ff3030" stroke-width="0.64" vector-effect="non-scaling-stroke"/><polygon points="810.8,218.6 813.1999999999999,217.7 813.1999999999999,219.5" fill="#ff3030"/><polygon points="821.6,218.6 819.2,217.7 819.2,219.5" fill="#ff3030"/><text x="816.2" y="217.7" font-size="3.0" fill="#4a4a4a" stroke="#4a4a4a" stroke-width="0" text-anchor="middle">b<tspan font-size="70%" dy="0.8">min</tspan><tspan dy="-0.8"></tspan></text><rect x="673.4" y="172.5" width="74.3" height="32.9" fill="none" stroke="#6e6e6e" stroke-width="0.88" vector-effect="non-scaling-stroke"/><rect x="673.4" y="207.5" width="42.9" height="11.3" fill="none" stroke="#6e6e6e" stroke-width="0.88" vector-effect="non-scaling-stroke"/><rect x="673.4" y="220.7" width="75.5" height="55.3" fill="none" stroke="#6e6e6e" stroke-width="0.88" vector-effect="non-scaling-stroke"/><rect x="681.4" y="181.2" width="22.4" height="22.6" fill="#8a8a8a"/><rect x="682.8" y="183.4" width="19.6" height="17.7" fill="#fff"/><rect x="683.1" y="183.6" width="19.1" height="17.3" fill="none" stroke="#070707" stroke-width="1.0" vector-effect="non-scaling-stroke" rx="1.6"/><polygon points="692.4,183.6 702.2,192.4 692.4,200.9 683.1,192.4" fill="none" stroke="#222" stroke-width="1.05" vector-effect="non-scaling-stroke"/><circle cx="692.4" cy="184.1" r="0.9" fill="#111"/><circle cx="701.7" cy="192.4" r="0.9" fill="#111"/><circle cx="692.4" cy="200.4" r="0.9" fill="#111"/><circle cx="683.7" cy="192.4" r="0.9" fill="#111"/><circle cx="684" cy="184.6" r="0.9" fill="#111"/><circle cx="701.3" cy="184.6" r="0.9" fill="#111"/><circle cx="684" cy="200" r="0.9" fill="#111"/><circle cx="701.3" cy="200" r="0.9" fill="#111"/><line x1="682.1" y1="178.5" x2="702.5" y2="178.5" stroke="#ff3030" stroke-width="0.64" vector-effect="non-scaling-stroke"/><line x1="682.1" y1="176.1" x2="682.1" y2="180.9" stroke="#ff3030" stroke-width="0.64" vector-effect="non-scaling-stroke"/><line x1="692.4" y1="176.1" x2="692.4" y2="180.9" stroke="#ff3030" stroke-width="0.64" vector-effect="non-scaling-stroke"/><line x1="702.5" y1="176.1" x2="702.5" y2="180.9" stroke="#ff3030" stroke-width="0.64" vector-effect="non-scaling-stroke"/><polygon points="682.1,178.5 684.5,177.6 684.5,179.4" fill="#ff3030"/><polygon points="692.4,178.5 690.0,177.6 690.0,179.4" fill="#ff3030"/><polygon points="692.4,178.5 694.8,177.6 694.8,179.4" fill="#ff3030"/><polygon points="702.5,178.5 700.1,177.6 700.1,179.4" fill="#ff3030"/><text x="687.6" y="177.0" font-size="3.8" fill="#4a4a4a" stroke="#4a4a4a" stroke-width="0" text-anchor="middle">a<tspan font-size="70%" dy="0.8">1</tspan><tspan dy="-0.8"></tspan></text><text x="697.8" y="177.0" font-size="3.8" fill="#4a4a4a" stroke="#4a4a4a" stroke-width="0" text-anchor="middle">a<tspan font-size="70%" dy="0.8">1</tspan><tspan dy="-0.8"></tspan></text><line x1="678.7" y1="183.3" x2="678.7" y2="201.6" stroke="#ff3030" stroke-width="0.64" vector-effect="non-scaling-stroke"/><line x1="676.8000000000001" y1="183.3" x2="680.6" y2="183.3" stroke="#ff3030" stroke-width="0.64" vector-effect="non-scaling-stroke"/><line x1="676.8000000000001" y1="192.4" x2="680.6" y2="192.4" stroke="#ff3030" stroke-width="0.64" vector-effect="non-scaling-stroke"/><line x1="676.8000000000001" y1="201.6" x2="680.6" y2="201.6" stroke="#ff3030" stroke-width="0.64" vector-effect="non-scaling-stroke"/><polygon points="678.7,183.3 677.8000000000001,185.70000000000002 679.6,185.70000000000002" fill="#ff3030"/><polygon points="678.7,192.4 677.8000000000001,190.0 679.6,190.0" fill="#ff3030"/><polygon points="678.7,192.4 677.8000000000001,194.8 679.6,194.8" fill="#ff3030"/><polygon points="678.7,201.6 677.8000000000001,199.2 679.6,199.2" fill="#ff3030"/><text x="677.4" y="189.4" font-size="3.8" fill="#4a4a4a" stroke="#4a4a4a" stroke-width="0" text-anchor="start" transform="rotate(-90 677.4 189.4)">a<tspan font-size="70%" dy="0.8">1</tspan><tspan dy="-0.8"></tspan></text><text x="677.4" y="198.6" font-size="3.8" fill="#4a4a4a" stroke="#4a4a4a" stroke-width="0" text-anchor="start" transform="rotate(-90 677.4 198.6)">a<tspan font-size="70%" dy="0.8">1</tspan><tspan dy="-0.8"></tspan></text><polyline points="709.5,188.3 709.5,183.5 728.9,183.5 728.9,188.3" fill="none" stroke="#1a1a1a" stroke-width="1.5" vector-effect="non-scaling-stroke"/><line x1="709.3" y1="180.2" x2="729.1" y2="180.2" stroke="#ff3030" stroke-width="0.64" vector-effect="non-scaling-stroke"/><line x1="709.3" y1="178.6" x2="709.3" y2="181.79999999999998" stroke="#ff3030" stroke-width="0.64" vector-effect="non-scaling-stroke"/><line x1="729.1" y1="178.6" x2="729.1" y2="181.79999999999998" stroke="#ff3030" stroke-width="0.64" vector-effect="non-scaling-stroke"/><polygon points="709.3,180.2 711.6999999999999,179.29999999999998 711.6999999999999,181.1" fill="#ff3030"/><polygon points="729.1,180.2 726.7,179.29999999999998 726.7,181.1" fill="#ff3030"/><text x="719.2" y="178.6" font-size="3.8" fill="#4a4a4a" stroke="#4a4a4a" stroke-width="0" text-anchor="middle">a<tspan font-size="70%" dy="0.8">2</tspan><tspan dy="-0.8"></tspan></text><polygon points="716.6,186 719.2,184.2 721.8,186" fill="#ff3030"/><line x1="719.2" y1="184.4" x2="713.3" y2="188" stroke="#353535" stroke-width="0.72" vector-effect="non-scaling-stroke"/><line x1="719.2" y1="184.4" x2="724.4" y2="188" stroke="#353535" stroke-width="0.72" vector-effect="non-scaling-stroke"/><text x="707.6" y="192.4" font-size="3.7" fill="#777" stroke="#777" stroke-width="0" text-anchor="middle" font-style="italic">A<tspan font-size="70%" dy="0.8">01</tspan><tspan dy="-0.8"></tspan></text><text x="715.1" y="192.4" font-size="3.7" fill="#777" stroke="#777" stroke-width="0" text-anchor="middle" font-style="italic">A<tspan font-size="70%" dy="0.8">02</tspan><tspan dy="-0.8"></tspan></text><text x="724.1" y="192.4" font-size="3.7" fill="#777" stroke="#777" stroke-width="0" text-anchor="middle" font-style="italic">A<tspan font-size="70%" dy="0.8">02</tspan><tspan dy="-0.8"></tspan></text><text x="731.2" y="192.4" font-size="3.7" fill="#777" stroke="#777" stroke-width="0" text-anchor="middle" font-style="italic">A<tspan font-size="70%" dy="0.8">01</tspan><tspan dy="-0.8"></tspan></text><text x="705.6" y="199.7" font-size="3.5" fill="#4a4a4a" stroke="#4a4a4a" stroke-width="0" text-anchor="start" font-style="italic" textLength="40" lengthAdjust="spacingAndGlyphs">A<tspan font-size="70%">sh</tspan>=2(A<tspan font-size="70%">01</tspan>+A<tspan font-size="70%">02</tspan> cosα)</text><text x="674.8" y="212.0" font-size="3.4" fill="#4a4a4a" stroke="#4a4a4a" stroke-width="0" text-anchor="start" font-style="italic">max a<tspan font-size="70%">1</tspan> ≤ 25 Ø</text><text x="674.8" y="216.9" font-size="3.4" fill="#4a4a4a" stroke="#4a4a4a" stroke-width="0" text-anchor="start" font-style="italic" textLength="40.4" lengthAdjust="spacingAndGlyphs">(Ø: transverse re. dia. )</text><rect x="681.4" y="229.2" width="40.8" height="22.2" fill="#8a8a8a"/><rect x="682.8" y="230.6" width="38" height="19.2" fill="#fff"/><rect x="683.1" y="230.8" width="37.5" height="18.8" fill="none" stroke="#070707" stroke-width="1.0" vector-effect="non-scaling-stroke" rx="1.6"/><line x1="695.3" y1="230.8" x2="695.3" y2="249.6" stroke="#070707" stroke-width="0.96" vector-effect="non-scaling-stroke"/><line x1="707.8" y1="230.8" x2="707.8" y2="249.6" stroke="#070707" stroke-width="0.96" vector-effect="non-scaling-stroke"/><line x1="683.1" y1="239.5" x2="720.6" y2="239.5" stroke="#070707" stroke-width="0.96" vector-effect="non-scaling-stroke"/><circle cx="684" cy="231.7" r="1.0" fill="#111"/><circle cx="684" cy="248.7" r="1.0" fill="#111"/><circle cx="695.3" cy="231.7" r="1.0" fill="#111"/><circle cx="695.3" cy="248.7" r="1.0" fill="#111"/><circle cx="707.8" cy="231.7" r="1.0" fill="#111"/><circle cx="707.8" cy="248.7" r="1.0" fill="#111"/><circle cx="719.7" cy="231.7" r="1.0" fill="#111"/><circle cx="719.7" cy="248.7" r="1.0" fill="#111"/><circle cx="683.8" cy="239.5" r="0.9" fill="#111"/><circle cx="719.9" cy="239.5" r="0.9" fill="#111"/><line x1="682.5" y1="226.5" x2="720.5" y2="226.5" stroke="#ff3030" stroke-width="0.64" vector-effect="non-scaling-stroke"/><line x1="682.5" y1="224.1" x2="682.5" y2="228.9" stroke="#ff3030" stroke-width="0.64" vector-effect="non-scaling-stroke"/><line x1="695.3" y1="224.1" x2="695.3" y2="228.9" stroke="#ff3030" stroke-width="0.64" vector-effect="non-scaling-stroke"/><line x1="707.8" y1="224.1" x2="707.8" y2="228.9" stroke="#ff3030" stroke-width="0.64" vector-effect="non-scaling-stroke"/><line x1="720.5" y1="224.1" x2="720.5" y2="228.9" stroke="#ff3030" stroke-width="0.64" vector-effect="non-scaling-stroke"/><polygon points="682.5,226.5 684.9,225.6 684.9,227.4" fill="#ff3030"/><polygon points="695.3,226.5 692.9,225.6 692.9,227.4" fill="#ff3030"/><polygon points="695.3,226.5 697.6999999999999,225.6 697.6999999999999,227.4" fill="#ff3030"/><polygon points="707.8,226.5 705.4,225.6 705.4,227.4" fill="#ff3030"/><polygon points="707.8,226.5 710.1999999999999,225.6 710.1999999999999,227.4" fill="#ff3030"/><polygon points="720.5,226.5 718.1,225.6 718.1,227.4" fill="#ff3030"/><text x="689.4" y="225.0" font-size="3.8" fill="#4a4a4a" stroke="#4a4a4a" stroke-width="0" text-anchor="middle">a<tspan font-size="70%" dy="0.8">1</tspan><tspan dy="-0.8"></tspan></text><text x="702" y="225.0" font-size="3.8" fill="#4a4a4a" stroke="#4a4a4a" stroke-width="0" text-anchor="middle">a<tspan font-size="70%" dy="0.8">1</tspan><tspan dy="-0.8"></tspan></text><text x="714.6" y="225.0" font-size="3.8" fill="#4a4a4a" stroke="#4a4a4a" stroke-width="0" text-anchor="middle">a<tspan font-size="70%" dy="0.8">1</tspan><tspan dy="-0.8"></tspan></text><line x1="678.7" y1="230.6" x2="678.7" y2="249.4" stroke="#ff3030" stroke-width="0.64" vector-effect="non-scaling-stroke"/><line x1="676.8000000000001" y1="230.6" x2="680.6" y2="230.6" stroke="#ff3030" stroke-width="0.64" vector-effect="non-scaling-stroke"/><line x1="676.8000000000001" y1="240" x2="680.6" y2="240" stroke="#ff3030" stroke-width="0.64" vector-effect="non-scaling-stroke"/><line x1="676.8000000000001" y1="249.4" x2="680.6" y2="249.4" stroke="#ff3030" stroke-width="0.64" vector-effect="non-scaling-stroke"/><polygon points="678.7,230.6 677.8000000000001,233.0 679.6,233.0" fill="#ff3030"/><polygon points="678.7,240 677.8000000000001,237.6 679.6,237.6" fill="#ff3030"/><polygon points="678.7,240 677.8000000000001,242.4 679.6,242.4" fill="#ff3030"/><polygon points="678.7,249.4 677.8000000000001,247.0 679.6,247.0" fill="#ff3030"/><text x="677.4" y="237.0" font-size="3.8" fill="#4a4a4a" stroke="#4a4a4a" stroke-width="0" text-anchor="start" transform="rotate(-90 677.4 237.0)">a<tspan font-size="70%" dy="0.8">1</tspan><tspan dy="-0.8"></tspan></text><text x="677.4" y="246.4" font-size="3.8" fill="#4a4a4a" stroke="#4a4a4a" stroke-width="0" text-anchor="start" transform="rotate(-90 677.4 246.4)">a<tspan font-size="70%" dy="0.8">1</tspan><tspan dy="-0.8"></tspan></text><polyline points="732.4,231.4 736.5,231.4 736.5,249.3 732.4,249.3" fill="none" stroke="#1a1a1a" stroke-width="1.4" vector-effect="non-scaling-stroke"/><line x1="732.4" y1="239.8" x2="736.5" y2="239.8" stroke="#0b0b0b" stroke-width="1.04" vector-effect="non-scaling-stroke"/><text x="728.6" y="232.2" font-size="3.7" fill="#777" stroke="#777" stroke-width="0" text-anchor="middle" font-style="italic">A<tspan font-size="70%" dy="0.8">01</tspan><tspan dy="-0.8"></tspan></text><text x="728.6" y="240.6" font-size="3.7" fill="#777" stroke="#777" stroke-width="0" text-anchor="middle" font-style="italic">A<tspan font-size="70%" dy="0.8">02</tspan><tspan dy="-0.8"></tspan></text><text x="728.6" y="250.2" font-size="3.7" fill="#777" stroke="#777" stroke-width="0" text-anchor="middle" font-style="italic">A<tspan font-size="70%" dy="0.8">01</tspan><tspan dy="-0.8"></tspan></text><line x1="742.8" y1="230.6" x2="742.8" y2="250.0" stroke="#ff3030" stroke-width="0.64" vector-effect="non-scaling-stroke"/><line x1="740.4" y1="230.6" x2="745.1999999999999" y2="230.6" stroke="#ff3030" stroke-width="0.64" vector-effect="non-scaling-stroke"/><line x1="740.4" y1="250.0" x2="745.1999999999999" y2="250.0" stroke="#ff3030" stroke-width="0.64" vector-effect="non-scaling-stroke"/><polygon points="742.8,230.6 741.9,233.0 743.6999999999999,233.0" fill="#ff3030"/><polygon points="742.8,250.0 741.9,247.6 743.6999999999999,247.6" fill="#ff3030"/><text x="741.0" y="242.4" font-size="3.8" fill="#4a4a4a" stroke="#4a4a4a" stroke-width="0" text-anchor="start" transform="rotate(-90 741.0 242.4)">a<tspan font-size="70%" dy="0.8">2</tspan><tspan dy="-0.8"></tspan></text><text x="723.8" y="257.6" font-size="3.5" fill="#4a4a4a" stroke="#4a4a4a" stroke-width="0" text-anchor="start" font-style="italic" textLength="24.2" lengthAdjust="spacingAndGlyphs">A<tspan font-size="70%">sh</tspan>=2A<tspan font-size="70%">01</tspan>+A<tspan font-size="70%">02</tspan></text><line x1="682.5" y1="257.3" x2="721.2" y2="257.3" stroke="#ff3030" stroke-width="0.64" vector-effect="non-scaling-stroke"/><line x1="682.5" y1="255.70000000000002" x2="682.5" y2="258.90000000000003" stroke="#ff3030" stroke-width="0.64" vector-effect="non-scaling-stroke"/><line x1="721.2" y1="255.70000000000002" x2="721.2" y2="258.90000000000003" stroke="#ff3030" stroke-width="0.64" vector-effect="non-scaling-stroke"/><polygon points="682.5,257.3 684.9,256.40000000000003 684.9,258.2" fill="#ff3030"/><polygon points="721.2,257.3 718.8000000000001,256.40000000000003 718.8000000000001,258.2" fill="#ff3030"/><text x="700.6" y="255.9" font-size="3.8" fill="#4a4a4a" stroke="#4a4a4a" stroke-width="0" text-anchor="middle">a<tspan font-size="70%" dy="0.8">2</tspan><tspan dy="-0.8"></tspan></text><polyline points="682.9,265 682.9,259.9 720.8,259.9 720.8,265" fill="none" stroke="#1a1a1a" stroke-width="1.5" vector-effect="non-scaling-stroke"/><line x1="695.3" y1="259.9" x2="695.3" y2="265" stroke="#0b0b0b" stroke-width="1.04" vector-effect="non-scaling-stroke"/><line x1="707.8" y1="259.9" x2="707.8" y2="265" stroke="#0b0b0b" stroke-width="1.04" vector-effect="non-scaling-stroke"/><text x="684.2" y="269.8" font-size="3.7" fill="#777" stroke="#777" stroke-width="0" text-anchor="middle" font-style="italic">A<tspan font-size="70%" dy="0.8">01</tspan><tspan dy="-0.8"></tspan></text><text x="696.6" y="269.8" font-size="3.7" fill="#777" stroke="#777" stroke-width="0" text-anchor="middle" font-style="italic">A<tspan font-size="70%" dy="0.8">02</tspan><tspan dy="-0.8"></tspan></text><text x="708.6" y="269.8" font-size="3.7" fill="#777" stroke="#777" stroke-width="0" text-anchor="middle" font-style="italic">A<tspan font-size="70%" dy="0.8">02</tspan><tspan dy="-0.8"></tspan></text><text x="720.4" y="269.8" font-size="3.7" fill="#777" stroke="#777" stroke-width="0" text-anchor="middle" font-style="italic">A<tspan font-size="70%" dy="0.8">01</tspan><tspan dy="-0.8"></tspan></text><text x="690.3" y="274.2" font-size="3.5" fill="#4a4a4a" stroke="#4a4a4a" stroke-width="0" text-anchor="start" font-style="italic" textLength="28.2" lengthAdjust="spacingAndGlyphs">A<tspan font-size="70%">sh</tspan>=2(A<tspan font-size="70%">01</tspan>+A<tspan font-size="70%">02</tspan>)</text><text x="753.0" y="333.1" font-size="6.6" fill="#777" stroke="#777" stroke-width="0" text-anchor="start" textLength="62.2" lengthAdjust="spacingAndGlyphs">TBDY 2018 - Figure 7.3</text><text x="698.0" y="340.5" font-size="6.6" fill="#777" stroke="#777" stroke-width="0" text-anchor="start" textLength="128" lengthAdjust="spacingAndGlyphs">** All conditions were taken from TBDY 2018.</text></g></g></svg>
</body>
</html>
